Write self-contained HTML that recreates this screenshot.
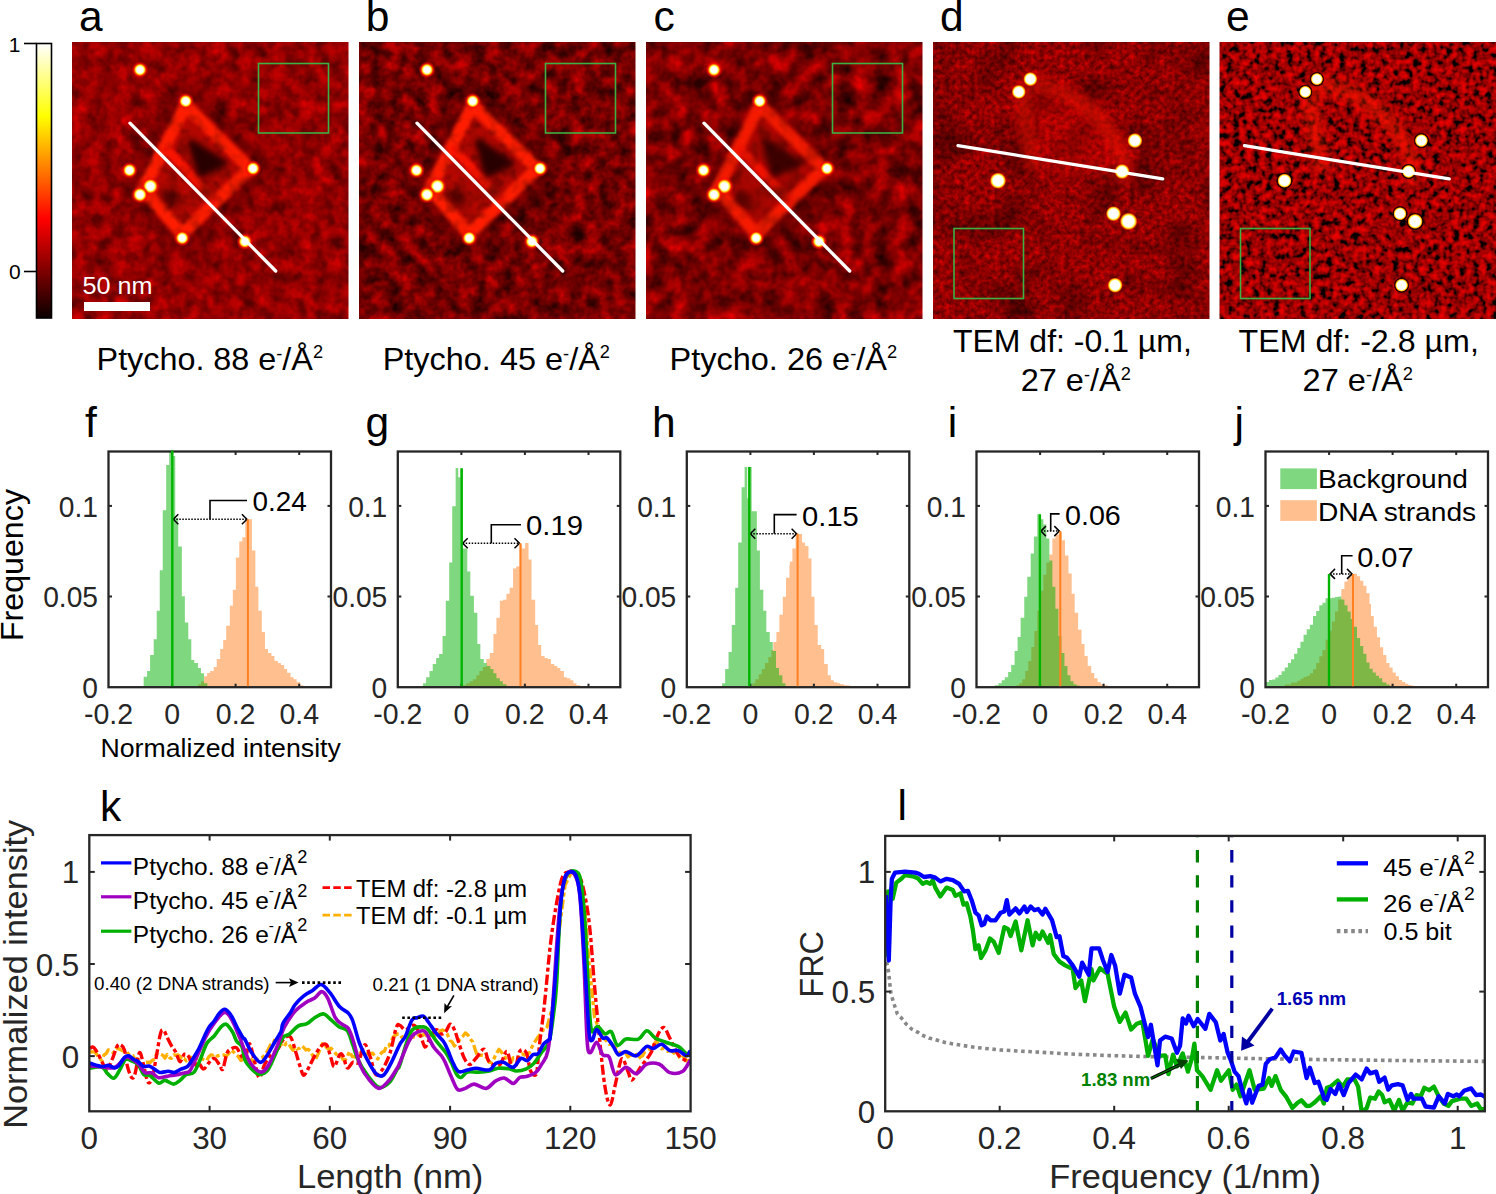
<!DOCTYPE html>
<html><head><meta charset="utf-8"><title>Figure</title>
<style>html,body{margin:0;padding:0;background:#fff;overflow:hidden}svg{display:block}</style></head>
<body><svg width="1496" height="1194" viewBox="0 0 1496 1194" font-family='"Liberation Sans", sans-serif'>
<defs>
<linearGradient id="hot" x1="0" y1="0" x2="0" y2="1">
 <stop offset="0" stop-color="#ffffff"/>
 <stop offset="0.265" stop-color="#ffff00"/>
 <stop offset="0.64" stop-color="#ff0000"/>
 <stop offset="1" stop-color="#0a0000"/>
</linearGradient>
<radialGradient id="spot">
 <stop offset="0" stop-color="#ffffff"/>
 <stop offset="0.36" stop-color="#ffffff"/>
 <stop offset="0.5" stop-color="#ffff50"/>
 <stop offset="0.6" stop-color="#ff9800"/>
 <stop offset="0.72" stop-color="#ff1800" stop-opacity="0.85"/>
 <stop offset="1" stop-color="#e00000" stop-opacity="0"/>
</radialGradient>
<radialGradient id="spotD">
 <stop offset="0" stop-color="#ffffff"/>
 <stop offset="0.6" stop-color="#ffffff"/>
 <stop offset="0.72" stop-color="#ffff50"/>
 <stop offset="0.84" stop-color="#ff9000"/>
 <stop offset="1" stop-color="#ff2000" stop-opacity="0"/>
</radialGradient>
<radialGradient id="spotE">
 <stop offset="0" stop-color="#ffffa0"/>
 <stop offset="0.15" stop-color="#ffffff"/>
 <stop offset="0.55" stop-color="#ffffff"/>
 <stop offset="0.66" stop-color="#ffff40"/>
 <stop offset="0.74" stop-color="#ff8000"/>
 <stop offset="0.82" stop-color="#200000"/>
 <stop offset="0.92" stop-color="#100000" stop-opacity="0.7"/>
 <stop offset="1" stop-color="#100000" stop-opacity="0"/>
</radialGradient>
<filter id="blur2" x="-60%" y="-60%" width="220%" height="220%"><feGaussianBlur stdDeviation="2"/></filter>
<filter id="blur4" x="-60%" y="-60%" width="220%" height="220%"><feGaussianBlur stdDeviation="4"/></filter>
<filter id="blur3" x="-60%" y="-60%" width="220%" height="220%"><feGaussianBlur stdDeviation="3"/></filter>
<filter id="blur5" x="-60%" y="-60%" width="220%" height="220%"><feGaussianBlur stdDeviation="5"/></filter>
<filter id="blur8" x="-60%" y="-60%" width="220%" height="220%"><feGaussianBlur stdDeviation="8"/></filter>
<filter id="lowd" filterUnits="userSpaceOnUse" x="933" y="42" width="276.5" height="277" color-interpolation-filters="sRGB"><feTurbulence type="fractalNoise" baseFrequency="0.025" numOctaves="2" seed="21"/><feColorMatrix type="matrix" values="1.1 0 0 0 0.38  1.1 0 0 0 0.38  1.1 0 0 0 0.38  0 0 0 0 1"/></filter><filter id="nz0" filterUnits="userSpaceOnUse" x="72" y="42" width="276.5" height="277" color-interpolation-filters="sRGB"><feTurbulence type="fractalNoise" baseFrequency="0.07" numOctaves="3" seed="3" result="t"/><feColorMatrix in="t" type="matrix" values="0.62 0 0 0 0.31  0 0 0 0 0  0 0 0 0 0  0 0 0 0 1" result="c"/></filter><filter id="ov0" filterUnits="userSpaceOnUse" x="72" y="42" width="276.5" height="277" color-interpolation-filters="sRGB"><feTurbulence type="fractalNoise" baseFrequency="0.084" numOctaves="2" seed="53"/><feColorMatrix type="matrix" values="0.9 0 0 0 0.5  0.9 0 0 0 0.5  0.9 0 0 0 0.5  0 0 0 0 1"/></filter><clipPath id="clip0"><rect x="72" y="42" width="276.5" height="277"/></clipPath><filter id="nz1" filterUnits="userSpaceOnUse" x="359" y="42" width="276.5" height="277" color-interpolation-filters="sRGB"><feTurbulence type="fractalNoise" baseFrequency="0.07" numOctaves="3" seed="5" result="t"/><feColorMatrix in="t" type="matrix" values="0.95 0 0 0 0.02  0 0 0 0 0  0 0 0 0 0  0 0 0 0 1" result="c"/></filter><filter id="ov1" filterUnits="userSpaceOnUse" x="359" y="42" width="276.5" height="277" color-interpolation-filters="sRGB"><feTurbulence type="fractalNoise" baseFrequency="0.084" numOctaves="2" seed="55"/><feColorMatrix type="matrix" values="0.9 0 0 0 0.5  0.9 0 0 0 0.5  0.9 0 0 0 0.5  0 0 0 0 1"/></filter><clipPath id="clip1"><rect x="359" y="42" width="276.5" height="277"/></clipPath><filter id="nz2" filterUnits="userSpaceOnUse" x="646" y="42" width="276.5" height="277" color-interpolation-filters="sRGB"><feTurbulence type="fractalNoise" baseFrequency="0.055" numOctaves="3" seed="8" result="t"/><feColorMatrix in="t" type="matrix" values="1.0 0 0 0 0.03  0 0 0 0 0  0 0 0 0 0  0 0 0 0 1" result="c"/></filter><filter id="ov2" filterUnits="userSpaceOnUse" x="646" y="42" width="276.5" height="277" color-interpolation-filters="sRGB"><feTurbulence type="fractalNoise" baseFrequency="0.066" numOctaves="2" seed="58"/><feColorMatrix type="matrix" values="0.9 0 0 0 0.5  0.9 0 0 0 0.5  0.9 0 0 0 0.5  0 0 0 0 1"/></filter><clipPath id="clip2"><rect x="646" y="42" width="276.5" height="277"/></clipPath><filter id="nz3" filterUnits="userSpaceOnUse" x="933" y="42" width="276.5" height="277" color-interpolation-filters="sRGB"><feTurbulence type="fractalNoise" baseFrequency="0.2" numOctaves="2" seed="11" result="t"/><feColorMatrix in="t" type="matrix" values="0.75 0 0 0 0.2  0 0 0 0 0  0 0 0 0 0  0 0 0 0 1" result="c"/></filter><filter id="ov3" filterUnits="userSpaceOnUse" x="933" y="42" width="276.5" height="277" color-interpolation-filters="sRGB"><feTurbulence type="fractalNoise" baseFrequency="0.24" numOctaves="2" seed="61"/><feColorMatrix type="matrix" values="0.9 0 0 0 0.5  0.9 0 0 0 0.5  0.9 0 0 0 0.5  0 0 0 0 1"/></filter><clipPath id="clip3"><rect x="933" y="42" width="276.5" height="277"/></clipPath><filter id="nz4" filterUnits="userSpaceOnUse" x="1219.5" y="42" width="276.5" height="277" color-interpolation-filters="sRGB"><feTurbulence type="fractalNoise" baseFrequency="0.15" numOctaves="2" seed="13" result="t"/><feColorMatrix in="t" type="matrix" values="1 0 0 0 0  0 0 0 0 0  0 0 0 0 0  0 0 0 0 1" result="c0"/><feComponentTransfer in="c0" result="c"><feFuncR type="table" tableValues="0 0 0 0 0 0 0.1 0.28 0.42 0.52 0.6 0.67 0.73 0.78 0.83 0.87 0.9 0.92 0.94 0.95 0.96"/></feComponentTransfer></filter><filter id="ov4" filterUnits="userSpaceOnUse" x="1219.5" y="42" width="276.5" height="277" color-interpolation-filters="sRGB"><feTurbulence type="fractalNoise" baseFrequency="0.18" numOctaves="2" seed="63"/><feColorMatrix type="matrix" values="0.9 0 0 0 0.5  0.9 0 0 0 0.5  0.9 0 0 0 0.5  0 0 0 0 1"/></filter><clipPath id="clip4"><rect x="1219.5" y="42" width="276.5" height="277"/></clipPath></defs>
<rect width="1496" height="1194" fill="#fff"/>
<rect x="36.5" y="43.5" width="15" height="274.5" fill="url(#hot)" stroke="#000" stroke-width="1.6"/>
<line x1="24" y1="43.5" x2="36.5" y2="43.5" stroke="#000" stroke-width="1.6"/>
<line x1="24" y1="271.5" x2="36.5" y2="271.5" stroke="#000" stroke-width="1.6"/>
<g clip-path="url(#clip0)">
<rect x="72" y="42" width="276.5" height="277" filter="url(#nz0)"/>
<g filter="url(#blur8)" opacity="0.45">
<polygon points="185.7,105.0 250.0,168.5 182.2,234.0 143.0,189.0" fill="#300000" stroke="#300000" stroke-width="36" stroke-linejoin="round"/>
</g>
<g filter="url(#blur5)" opacity="0.35">
<polygon points="185.7,105.0 250.0,168.5 182.2,234.0 143.0,189.0" fill="#b00000" stroke="#b00000" stroke-width="14" stroke-linejoin="round"/>
</g>
<g filter="url(#blur2)" opacity="0.60">
<polygon points="185.7,105.0 250.0,168.5 182.2,234.0 143.0,189.0" fill="#d00800"/>
</g>
<g filter="url(#blur2)" opacity="1.00">
<polygon points="185.7,105.0 250.0,168.5 182.2,234.0 143.0,189.0" fill="none" stroke="#ff2000" stroke-width="12" stroke-linejoin="round"/>
<line x1="164.3" y1="147.0" x2="216.1" y2="201.2" stroke="#f81800" stroke-width="9"/>
</g>

<rect x="72" y="42" width="276.5" height="277" filter="url(#ov0)" style="mix-blend-mode:multiply"/>

<g filter="url(#blur2)" opacity="0.42">
<polygon points="185.7,105.0 250.0,168.5 182.2,234.0 143.0,189.0" fill="none" stroke="#ff1400" stroke-width="9" stroke-linejoin="round"/>
<line x1="164.3" y1="147.0" x2="216.1" y2="201.2" stroke="#ff1000" stroke-width="6"/>
</g>
<g filter="url(#blur3)" opacity="0.95">
<polygon points="191.0,142.0 225.0,163.0 200.0,175.0" fill="#200000" stroke="#200000" stroke-width="6" stroke-linejoin="round"/>
</g>
<g filter="url(#blur4)" opacity="0.80">
<ellipse cx="170" cy="198" rx="10" ry="6.5" fill="#280000" transform="rotate(40 170 198)"/>
<ellipse cx="207" cy="192" rx="8" ry="5" fill="#280000" transform="rotate(40 207 192)"/>
</g>
<circle cx="140" cy="69.8" r="8.5" fill="url(#spot)"/>
<circle cx="185.7" cy="101.2" r="8.5" fill="url(#spot)"/>
<circle cx="129.5" cy="170.3" r="8.5" fill="url(#spot)"/>
<circle cx="253" cy="168.5" r="8.5" fill="url(#spot)"/>
<circle cx="150.4" cy="186.3" r="9.8" fill="url(#spot)"/>
<circle cx="140" cy="194.7" r="9.1" fill="url(#spot)"/>
<circle cx="182.2" cy="238" r="8.5" fill="url(#spot)"/>
<circle cx="244.9" cy="241.5" r="8.5" fill="url(#spot)"/>
<line x1="130" y1="123.2" x2="275.7" y2="271" stroke="#fff" stroke-width="3.3" stroke-linecap="round"/>
<rect x="258.5" y="63.5" width="70" height="69.5" fill="none" stroke="#3cb043" stroke-width="1.6"/>
</g>
<g clip-path="url(#clip1)">
<rect x="359" y="42" width="276.5" height="277" filter="url(#nz1)"/>
<g filter="url(#blur8)" opacity="0.45">
<polygon points="472.7,105.0 537.0,168.5 469.2,234.0 430.0,189.0" fill="#300000" stroke="#300000" stroke-width="36" stroke-linejoin="round"/>
</g>
<g filter="url(#blur5)" opacity="0.35">
<polygon points="472.7,105.0 537.0,168.5 469.2,234.0 430.0,189.0" fill="#b00000" stroke="#b00000" stroke-width="14" stroke-linejoin="round"/>
</g>
<g filter="url(#blur2)" opacity="0.60">
<polygon points="472.7,105.0 537.0,168.5 469.2,234.0 430.0,189.0" fill="#d00800"/>
</g>
<g filter="url(#blur2)" opacity="1.00">
<polygon points="472.7,105.0 537.0,168.5 469.2,234.0 430.0,189.0" fill="none" stroke="#ff2000" stroke-width="12" stroke-linejoin="round"/>
<line x1="451.4" y1="147.0" x2="503.1" y2="201.2" stroke="#f81800" stroke-width="9"/>
</g>

<rect x="359" y="42" width="276.5" height="277" filter="url(#ov1)" style="mix-blend-mode:multiply"/>

<g filter="url(#blur2)" opacity="0.42">
<polygon points="472.7,105.0 537.0,168.5 469.2,234.0 430.0,189.0" fill="none" stroke="#ff1400" stroke-width="9" stroke-linejoin="round"/>
<line x1="451.4" y1="147.0" x2="503.1" y2="201.2" stroke="#ff1000" stroke-width="6"/>
</g>
<g filter="url(#blur3)" opacity="0.95">
<polygon points="478.0,142.0 512.0,163.0 487.0,175.0" fill="#200000" stroke="#200000" stroke-width="6" stroke-linejoin="round"/>
</g>
<g filter="url(#blur4)" opacity="0.80">
<ellipse cx="457" cy="198" rx="10" ry="6.5" fill="#280000" transform="rotate(40 457 198)"/>
<ellipse cx="494" cy="192" rx="8" ry="5" fill="#280000" transform="rotate(40 494 192)"/>
</g>
<circle cx="427" cy="69.8" r="8.5" fill="url(#spot)"/>
<circle cx="472.7" cy="101.2" r="8.5" fill="url(#spot)"/>
<circle cx="416.5" cy="170.3" r="8.5" fill="url(#spot)"/>
<circle cx="540" cy="168.5" r="8.5" fill="url(#spot)"/>
<circle cx="437.4" cy="186.3" r="9.8" fill="url(#spot)"/>
<circle cx="427" cy="194.7" r="9.1" fill="url(#spot)"/>
<circle cx="469.2" cy="238" r="8.5" fill="url(#spot)"/>
<circle cx="531.9" cy="241.5" r="8.5" fill="url(#spot)"/>
<line x1="417" y1="123.2" x2="562.7" y2="271" stroke="#fff" stroke-width="3.3" stroke-linecap="round"/>
<rect x="545.5" y="63.5" width="70" height="69.5" fill="none" stroke="#3cb043" stroke-width="1.6"/>
</g>
<g clip-path="url(#clip2)">
<rect x="646" y="42" width="276.5" height="277" filter="url(#nz2)"/>
<g filter="url(#blur8)" opacity="0.38">
<polygon points="759.7,105.0 824.0,168.5 756.2,234.0 717.0,189.0" fill="#300000" stroke="#300000" stroke-width="36" stroke-linejoin="round"/>
</g>
<g filter="url(#blur5)" opacity="0.30">
<polygon points="759.7,105.0 824.0,168.5 756.2,234.0 717.0,189.0" fill="#b00000" stroke="#b00000" stroke-width="14" stroke-linejoin="round"/>
</g>
<g filter="url(#blur2)" opacity="0.51">
<polygon points="759.7,105.0 824.0,168.5 756.2,234.0 717.0,189.0" fill="#d00800"/>
</g>
<g filter="url(#blur2)" opacity="0.85">
<polygon points="759.7,105.0 824.0,168.5 756.2,234.0 717.0,189.0" fill="none" stroke="#ff2000" stroke-width="12" stroke-linejoin="round"/>
<line x1="738.4" y1="147.0" x2="790.1" y2="201.2" stroke="#f81800" stroke-width="9"/>
</g>

<rect x="646" y="42" width="276.5" height="277" filter="url(#ov2)" style="mix-blend-mode:multiply"/>

<g filter="url(#blur2)" opacity="0.36">
<polygon points="759.7,105.0 824.0,168.5 756.2,234.0 717.0,189.0" fill="none" stroke="#ff1400" stroke-width="9" stroke-linejoin="round"/>
<line x1="738.4" y1="147.0" x2="790.1" y2="201.2" stroke="#ff1000" stroke-width="6"/>
</g>
<g filter="url(#blur3)" opacity="0.81">
<polygon points="765.0,142.0 799.0,163.0 774.0,175.0" fill="#200000" stroke="#200000" stroke-width="6" stroke-linejoin="round"/>
</g>
<g filter="url(#blur4)" opacity="0.68">
<ellipse cx="744" cy="198" rx="10" ry="6.5" fill="#280000" transform="rotate(40 744 198)"/>
<ellipse cx="781" cy="192" rx="8" ry="5" fill="#280000" transform="rotate(40 781 192)"/>
</g>
<circle cx="714" cy="69.8" r="8.5" fill="url(#spot)"/>
<circle cx="759.7" cy="101.2" r="8.5" fill="url(#spot)"/>
<circle cx="703.5" cy="170.3" r="8.5" fill="url(#spot)"/>
<circle cx="827" cy="168.5" r="8.5" fill="url(#spot)"/>
<circle cx="724.4" cy="186.3" r="9.8" fill="url(#spot)"/>
<circle cx="714" cy="194.7" r="9.1" fill="url(#spot)"/>
<circle cx="756.2" cy="238" r="8.5" fill="url(#spot)"/>
<circle cx="818.9" cy="241.5" r="8.5" fill="url(#spot)"/>
<line x1="704" y1="123.2" x2="849.7" y2="271" stroke="#fff" stroke-width="3.3" stroke-linecap="round"/>
<rect x="832.5" y="63.5" width="70" height="69.5" fill="none" stroke="#3cb043" stroke-width="1.6"/>
</g>
<g clip-path="url(#clip3)">
<rect x="933" y="42" width="276.5" height="277" filter="url(#nz3)"/>
<rect x="933" y="42" width="276.5" height="277" filter="url(#lowd)" style="mix-blend-mode:multiply"/>
<g filter="url(#blur8)" opacity="0.22">
<polygon points="1028,84 1103,102 1133,152 1128,182 1043,170 1023,102" fill="#ff1000"/>
</g>
<g filter="url(#blur4)" opacity="0.38">
<path d="M1030,82 Q1093,92 1123,157 L1125,177 M1021,94 Q1025,132 1033,164" fill="none" stroke="#ff1800" stroke-width="16" stroke-linecap="round"/>
</g>
<circle cx="1030.4" cy="79.1" r="7.3" fill="url(#spotD)"/>
<circle cx="1018.8" cy="91.9" r="7.3" fill="url(#spotD)"/>
<circle cx="1134.9" cy="140.6" r="7.8" fill="url(#spotD)"/>
<circle cx="1122.1" cy="171.5" r="7.8" fill="url(#spotD)"/>
<circle cx="998" cy="180.7" r="8.4" fill="url(#spotD)"/>
<circle cx="1113.5" cy="213.7" r="7.8" fill="url(#spotD)"/>
<circle cx="1128.6" cy="221.4" r="9.0" fill="url(#spotD)"/>
<circle cx="1115.1" cy="285.2" r="7.8" fill="url(#spotD)"/>
<line x1="958" y1="145.7" x2="1162.7" y2="178.9" stroke="#fff" stroke-width="3.3" stroke-linecap="round"/>
<rect x="954" y="228.5" width="69.5" height="70" fill="none" stroke="#3cb043" stroke-width="1.6"/>
</g>
<g clip-path="url(#clip4)">
<rect x="1219.5" y="42" width="276.5" height="277" filter="url(#nz4)"/>
<g filter="url(#blur5)" opacity="0.4">
<path d="M1318.5,84 Q1379.5,92 1411.5,157 L1411.5,177 M1309.5,96 Q1313.5,132 1321.5,164" fill="none" stroke="#ff2000" stroke-width="18" stroke-linecap="round"/>
</g>
<circle cx="1316.9" cy="79.1" r="7.5" fill="url(#spotE)"/>
<circle cx="1305.3" cy="91.9" r="7.5" fill="url(#spotE)"/>
<circle cx="1421.4" cy="140.6" r="8.0" fill="url(#spotE)"/>
<circle cx="1408.6" cy="171.5" r="8.0" fill="url(#spotE)"/>
<circle cx="1284.5" cy="180.7" r="8.6" fill="url(#spotE)"/>
<circle cx="1400.0" cy="213.7" r="8.0" fill="url(#spotE)"/>
<circle cx="1415.1" cy="221.4" r="9.2" fill="url(#spotE)"/>
<circle cx="1401.6" cy="285.2" r="8.0" fill="url(#spotE)"/>
<line x1="1244.5" y1="145.7" x2="1449.2" y2="178.9" stroke="#fff" stroke-width="3.3" stroke-linecap="round"/>
<rect x="1240.5" y="228.5" width="69.5" height="70" fill="none" stroke="#3cb043" stroke-width="1.6"/>
</g>
<rect x="84" y="302" width="66" height="9" fill="#fff"/>
<clipPath id="hc0"><rect x="108.5" y="451.5" width="222.5" height="235.70000000000005"/></clipPath>
<g clip-path="url(#hc0)">
<path d="M198.05,687.2L198.05,684.18L201.06,684.18L201.06,681.17L204.08,681.17L204.08,676.14L207.10,676.14L207.10,673.12L210.11,673.12L210.11,671.11L213.73,671.11L213.73,667.09L216.75,667.09L216.75,659.04L220.17,659.04L220.17,648.99L223.19,648.99L223.19,639.94L226.20,639.94L226.20,625.86L229.82,625.86L229.82,605.74L232.84,605.74L232.84,589.65L235.86,589.65L235.86,557.47L239.28,557.47L239.28,541.38L242.29,541.38L242.29,537.36L245.31,537.36L245.31,519.26L248.33,519.26L248.33,519.26L251.95,519.26L251.95,550.43L255.37,550.43L255.37,586.64L258.38,586.64L258.38,610.77L261.80,610.77L261.80,631.89L265.02,631.89L265.02,648.99L268.04,648.99L268.04,653.01L271.46,653.01L271.46,656.03L274.47,656.03L274.47,661.05L277.89,661.05L277.89,663.06L280.91,663.06L280.91,665.08L284.13,665.08L284.13,669.10L287.14,669.10L287.14,672.72L290.56,672.72L290.56,677.14L293.58,677.14L293.58,679.15L296.60,679.15L296.60,682.17L300.22,682.17L300.22,685.19L303.23,685.19L303.23,686.19L330.79,686.19L330.79,687.20L331.00,687.20L331.00,687.2Z" fill="#ff8020" fill-opacity="0.5"/>
<path d="M141.06,687.2L141.06,687.20L143.67,687.20L143.67,676.75L147.09,676.75L147.09,671.12L150.10,671.12L150.10,655.04L153.72,655.04L153.72,639.36L156.73,639.36L156.73,610.82L159.75,610.82L159.75,570.22L162.76,570.22L162.76,510.32L166.18,510.32L166.18,465.09L169.20,465.09L169.20,452.02L172.21,452.02L172.21,456.04L175.23,456.04L175.23,518.36L178.24,518.36L178.24,546.50L181.86,546.50L181.86,596.35L184.87,596.35L184.87,622.48L188.29,622.48L188.29,639.36L191.31,639.36L191.31,660.06L194.32,660.06L194.32,663.08L197.94,663.08L197.94,668.10L200.95,668.10L200.95,673.13L203.97,673.13L203.97,683.18L207.39,683.18L207.39,687.20L210.49,687.20L210.49,687.2Z" fill="#00b000" fill-opacity="0.5"/>
</g>
<line x1="173.3" y1="519.3" x2="246.9" y2="519.3" stroke="#000" stroke-width="1.5" stroke-dasharray="1.5,1.5"/>
<polyline points="178.3,514.3 173.3,519.3 178.3,524.3" fill="none" stroke="#000" stroke-width="1.5"/>
<polyline points="241.9,514.3 246.9,519.3 241.9,524.3" fill="none" stroke="#000" stroke-width="1.5"/>
<polyline points="210,519.3 210,500.5 247,500.5" fill="none" stroke="#000" stroke-width="1.6"/>
<rect x="108.5" y="451.5" width="222.5" height="235.70000000000005" fill="none" stroke="#262626" stroke-width="2.3"/>
<line x1="172.1" y1="687.2" x2="172.1" y2="683.7" stroke="#262626" stroke-width="2"/>
<line x1="172.1" y1="451.5" x2="172.1" y2="455.0" stroke="#262626" stroke-width="2"/>
<line x1="235.6" y1="687.2" x2="235.6" y2="683.7" stroke="#262626" stroke-width="2"/>
<line x1="235.6" y1="451.5" x2="235.6" y2="455.0" stroke="#262626" stroke-width="2"/>
<line x1="299.2" y1="687.2" x2="299.2" y2="683.7" stroke="#262626" stroke-width="2"/>
<line x1="299.2" y1="451.5" x2="299.2" y2="455.0" stroke="#262626" stroke-width="2"/>
<line x1="108.5" y1="596.5" x2="112.0" y2="596.5" stroke="#262626" stroke-width="2"/>
<line x1="331.0" y1="596.5" x2="327.5" y2="596.5" stroke="#262626" stroke-width="2"/>
<line x1="108.5" y1="505.9" x2="112.0" y2="505.9" stroke="#262626" stroke-width="2"/>
<line x1="331.0" y1="505.9" x2="327.5" y2="505.9" stroke="#262626" stroke-width="2"/>
<line x1="172.3" y1="686.2" x2="172.3" y2="450.4" stroke="#00b400" stroke-width="2.4"/>
<line x1="247.9" y1="686.2" x2="247.9" y2="519.3" stroke="#ff8020" stroke-width="2"/>
<text x="0" y="0" transform="translate(108.5,723.9) scale(0.965,1)" font-size="29.5" fill="#262626" text-anchor="middle">-0.2</text>
<text x="0" y="0" transform="translate(172.1,723.9) scale(0.965,1)" font-size="29.5" fill="#262626" text-anchor="middle">0</text>
<text x="0" y="0" transform="translate(235.6,723.9) scale(0.965,1)" font-size="29.5" fill="#262626" text-anchor="middle">0.2</text>
<text x="0" y="0" transform="translate(299.2,723.9) scale(0.965,1)" font-size="29.5" fill="#262626" text-anchor="middle">0.4</text>
<text x="0" y="0" transform="translate(98.0,698.1) scale(0.965,1)" font-size="29.2" fill="#262626" text-anchor="end">0</text>
<text x="0" y="0" transform="translate(98.0,607.4) scale(0.965,1)" font-size="29.2" fill="#262626" text-anchor="end">0.05</text>
<text x="0" y="0" transform="translate(98.0,516.8) scale(0.965,1)" font-size="29.2" fill="#262626" text-anchor="end">0.1</text>
<clipPath id="hc1"><rect x="397.8" y="451.5" width="222.5" height="235.70000000000005"/></clipPath>
<g clip-path="url(#hc1)">
<path d="M462.66,687.2L462.66,685.19L466.28,685.19L466.28,683.18L469.70,683.18L469.70,681.17L472.91,681.17L472.91,679.16L476.33,679.16L476.33,675.14L479.35,675.14L479.35,671.12L482.76,671.12L482.76,667.10L486.38,667.10L486.38,659.06L489.80,659.06L489.80,653.03L493.42,653.03L493.42,633.93L496.43,633.93L496.43,617.85L499.85,617.85L499.85,600.77L503.02,600.77L503.02,599.76L506.43,599.76L506.43,593.73L509.65,593.73L509.65,587.70L513.07,587.70L513.07,568.61L516.08,568.61L516.08,566.60L519.50,566.60L519.50,544.49L522.11,544.49L522.11,548.51L525.13,548.51L525.13,542.88L528.54,542.88L528.54,559.56L531.56,559.56L531.56,599.76L535.18,599.76L535.18,624.89L538.19,624.89L538.19,644.99L541.21,644.99L541.21,656.04L544.62,656.04L544.62,658.05L547.64,658.05L547.64,659.06L550.85,659.06L550.85,664.08L554.27,664.08L554.27,666.09L557.29,666.09L557.29,668.10L560.30,668.10L560.30,671.12L563.92,671.12L563.92,677.15L566.93,677.15L566.93,678.15L570.35,678.15L570.35,680.16L573.37,680.16L573.37,683.18L576.38,683.18L576.38,685.19L580.00,685.19L580.00,686.19L620.30,686.19L620.30,687.2Z" fill="#ff8020" fill-opacity="0.5"/>
<path d="M420.05,687.2L420.05,686.80L423.07,686.80L423.07,683.18L426.08,683.18L426.08,677.15L429.50,677.15L429.50,671.12L432.71,671.12L432.71,664.08L436.13,664.08L436.13,658.05L439.15,658.05L439.15,654.03L442.56,654.03L442.56,635.94L445.78,635.94L445.78,600.77L449.20,600.77L449.20,562.58L452.21,562.58L452.21,506.30L455.63,506.30L455.63,468.10L458.24,468.10L458.24,477.15L460.25,477.15L460.25,468.10L462.66,468.10L462.66,548.51L467.29,548.51L467.29,571.62L470.30,571.62L470.30,595.74L473.92,595.74L473.92,612.83L477.34,612.83L477.34,643.98L480.35,643.98L480.35,659.06L483.77,659.06L483.77,663.08L486.78,663.08L486.78,666.09L490.40,666.09L490.40,669.11L493.42,669.11L493.42,673.13L496.43,673.13L496.43,678.15L499.85,678.15L499.85,681.17L502.86,681.17L502.86,684.18L506.48,684.18L506.48,686.19L509.50,686.19L509.50,687.20L512.60,687.20L512.60,687.2Z" fill="#00b000" fill-opacity="0.5"/>
</g>
<line x1="462.7" y1="543.2" x2="519.5" y2="543.2" stroke="#000" stroke-width="1.5" stroke-dasharray="1.5,1.5"/>
<polyline points="467.7,538.2 462.7,543.2 467.7,548.2" fill="none" stroke="#000" stroke-width="1.5"/>
<polyline points="514.5,538.2 519.5,543.2 514.5,548.2" fill="none" stroke="#000" stroke-width="1.5"/>
<polyline points="491.3,543.2 491.3,524.7 521,524.7" fill="none" stroke="#000" stroke-width="1.6"/>
<rect x="397.8" y="451.5" width="222.5" height="235.70000000000005" fill="none" stroke="#262626" stroke-width="2.3"/>
<line x1="461.4" y1="687.2" x2="461.4" y2="683.7" stroke="#262626" stroke-width="2"/>
<line x1="461.4" y1="451.5" x2="461.4" y2="455.0" stroke="#262626" stroke-width="2"/>
<line x1="524.9" y1="687.2" x2="524.9" y2="683.7" stroke="#262626" stroke-width="2"/>
<line x1="524.9" y1="451.5" x2="524.9" y2="455.0" stroke="#262626" stroke-width="2"/>
<line x1="588.5" y1="687.2" x2="588.5" y2="683.7" stroke="#262626" stroke-width="2"/>
<line x1="588.5" y1="451.5" x2="588.5" y2="455.0" stroke="#262626" stroke-width="2"/>
<line x1="397.8" y1="596.5" x2="401.3" y2="596.5" stroke="#262626" stroke-width="2"/>
<line x1="620.3" y1="596.5" x2="616.8" y2="596.5" stroke="#262626" stroke-width="2"/>
<line x1="397.8" y1="505.9" x2="401.3" y2="505.9" stroke="#262626" stroke-width="2"/>
<line x1="620.3" y1="505.9" x2="616.8" y2="505.9" stroke="#262626" stroke-width="2"/>
<line x1="461.7" y1="686.2" x2="461.7" y2="468.5" stroke="#00b400" stroke-width="2.4"/>
<line x1="520.5" y1="686.2" x2="520.5" y2="543.2" stroke="#ff8020" stroke-width="2"/>
<text x="0" y="0" transform="translate(397.8,723.9) scale(0.965,1)" font-size="29.5" fill="#262626" text-anchor="middle">-0.2</text>
<text x="0" y="0" transform="translate(461.4,723.9) scale(0.965,1)" font-size="29.5" fill="#262626" text-anchor="middle">0</text>
<text x="0" y="0" transform="translate(524.9,723.9) scale(0.965,1)" font-size="29.5" fill="#262626" text-anchor="middle">0.2</text>
<text x="0" y="0" transform="translate(588.5,723.9) scale(0.965,1)" font-size="29.5" fill="#262626" text-anchor="middle">0.4</text>
<text x="0" y="0" transform="translate(387.3,698.1) scale(0.965,1)" font-size="29.2" fill="#262626" text-anchor="end">0</text>
<text x="0" y="0" transform="translate(387.3,607.4) scale(0.965,1)" font-size="29.2" fill="#262626" text-anchor="end">0.05</text>
<text x="0" y="0" transform="translate(387.3,516.8) scale(0.965,1)" font-size="29.2" fill="#262626" text-anchor="end">0.1</text>
<clipPath id="hc2"><rect x="686.8" y="451.5" width="222.5" height="235.70000000000005"/></clipPath>
<g clip-path="url(#hc2)">
<path d="M749.25,687.2L749.25,686.19L752.26,686.19L752.26,683.18L755.28,683.18L755.28,679.16L758.69,679.16L758.69,674.13L761.71,674.13L761.71,669.11L764.92,669.11L764.92,663.08L768.34,663.08L768.34,657.05L771.36,657.05L771.36,650.01L773.37,650.01L773.37,641.97L776.38,641.97L776.38,631.92L779.40,631.92L779.40,614.84L782.81,614.84L782.81,596.75L786.03,596.75L786.03,577.65L789.45,577.65L789.45,564.59L790.00,564.59L790.00,561.57L792.41,561.57L792.41,548.51L795.63,548.51L795.63,534.03L799.05,534.03L799.05,534.03L802.06,534.03L802.06,542.48L805.08,542.48L805.08,546.09L808.49,546.09L808.49,558.56L811.51,558.56L811.51,596.75L814.52,596.75L814.52,624.89L817.74,624.89L817.74,644.99L821.16,644.99L821.16,649.01L824.17,649.01L824.17,664.08L827.79,664.08L827.79,675.14L830.80,675.14L830.80,680.16L833.82,680.16L833.82,682.17L837.24,682.17L837.24,683.18L840.25,683.18L840.25,684.18L843.87,684.18L843.87,685.19L846.88,685.19L846.88,685.59L850.30,685.59L850.30,686.19L870.40,686.19L870.40,687.20L873.50,687.20L873.50,687.2Z" fill="#ff8020" fill-opacity="0.5"/>
<path d="M719.10,687.2L719.10,686.19L722.11,686.19L722.11,683.18L725.13,683.18L725.13,669.11L728.54,669.11L728.54,652.02L731.76,652.02L731.76,624.89L735.18,624.89L735.18,587.70L738.19,587.70L738.19,542.48L741.61,542.48L741.61,487.20L744.62,487.20L744.62,467.10L747.24,467.10L747.24,498.26L748.64,498.26L748.64,467.10L751.66,467.10L751.66,511.32L756.88,511.32L756.88,550.52L759.90,550.52L759.90,589.71L763.32,589.71L763.32,610.82L766.33,610.82L766.33,631.92L769.75,631.92L769.75,641.97L772.76,641.97L772.76,651.02L775.98,651.02L775.98,668.10L778.99,668.10L778.99,675.14L782.41,675.14L782.41,683.18L785.43,683.18L785.43,686.19L788.44,686.19L788.44,687.20L791.54,687.20L791.54,687.2Z" fill="#00b000" fill-opacity="0.5"/>
</g>
<line x1="750.3" y1="533.7" x2="796.6" y2="533.7" stroke="#000" stroke-width="1.5" stroke-dasharray="1.5,1.5"/>
<polyline points="755.3,528.7 750.3,533.7 755.3,538.7" fill="none" stroke="#000" stroke-width="1.5"/>
<polyline points="791.6,528.7 796.6,533.7 791.6,538.7" fill="none" stroke="#000" stroke-width="1.5"/>
<polyline points="774.3,533.7 774.3,514.6 796.6,514.6" fill="none" stroke="#000" stroke-width="1.6"/>
<rect x="686.8" y="451.5" width="222.5" height="235.70000000000005" fill="none" stroke="#262626" stroke-width="2.3"/>
<line x1="750.4" y1="687.2" x2="750.4" y2="683.7" stroke="#262626" stroke-width="2"/>
<line x1="750.4" y1="451.5" x2="750.4" y2="455.0" stroke="#262626" stroke-width="2"/>
<line x1="813.9" y1="687.2" x2="813.9" y2="683.7" stroke="#262626" stroke-width="2"/>
<line x1="813.9" y1="451.5" x2="813.9" y2="455.0" stroke="#262626" stroke-width="2"/>
<line x1="877.5" y1="687.2" x2="877.5" y2="683.7" stroke="#262626" stroke-width="2"/>
<line x1="877.5" y1="451.5" x2="877.5" y2="455.0" stroke="#262626" stroke-width="2"/>
<line x1="686.8" y1="596.5" x2="690.3" y2="596.5" stroke="#262626" stroke-width="2"/>
<line x1="909.3" y1="596.5" x2="905.8" y2="596.5" stroke="#262626" stroke-width="2"/>
<line x1="686.8" y1="505.9" x2="690.3" y2="505.9" stroke="#262626" stroke-width="2"/>
<line x1="909.3" y1="505.9" x2="905.8" y2="505.9" stroke="#262626" stroke-width="2"/>
<line x1="749.3" y1="686.2" x2="749.3" y2="467" stroke="#00b400" stroke-width="2.4"/>
<line x1="797.6" y1="686.2" x2="797.6" y2="533.7" stroke="#ff8020" stroke-width="2"/>
<text x="0" y="0" transform="translate(686.8,723.9) scale(0.965,1)" font-size="29.5" fill="#262626" text-anchor="middle">-0.2</text>
<text x="0" y="0" transform="translate(750.4,723.9) scale(0.965,1)" font-size="29.5" fill="#262626" text-anchor="middle">0</text>
<text x="0" y="0" transform="translate(813.9,723.9) scale(0.965,1)" font-size="29.5" fill="#262626" text-anchor="middle">0.2</text>
<text x="0" y="0" transform="translate(877.5,723.9) scale(0.965,1)" font-size="29.5" fill="#262626" text-anchor="middle">0.4</text>
<text x="0" y="0" transform="translate(676.3,698.1) scale(0.965,1)" font-size="29.2" fill="#262626" text-anchor="end">0</text>
<text x="0" y="0" transform="translate(676.3,607.4) scale(0.965,1)" font-size="29.2" fill="#262626" text-anchor="end">0.05</text>
<text x="0" y="0" transform="translate(676.3,516.8) scale(0.965,1)" font-size="29.2" fill="#262626" text-anchor="end">0.1</text>
<clipPath id="hc3"><rect x="976.5" y="451.5" width="222.5" height="235.70000000000005"/></clipPath>
<g clip-path="url(#hc3)">
<path d="M1016.20,687.2L1016.20,685.19L1019.22,685.19L1019.22,683.18L1022.23,683.18L1022.23,679.16L1025.25,679.16L1025.25,671.12L1028.26,671.12L1028.26,661.07L1031.28,661.07L1031.28,647.00L1034.29,647.00L1034.29,630.92L1037.31,630.92L1037.31,610.82L1040.32,610.82L1040.32,590.72L1043.34,590.72L1043.34,574.64L1046.35,574.64L1046.35,562.58L1049.37,562.58L1049.37,554.54L1052.38,554.54L1052.38,538.46L1055.40,538.46L1055.40,534.44L1060.00,534.44L1060.00,532.30L1062.01,532.30L1062.01,540.35L1065.03,540.35L1065.03,555.44L1068.45,555.44L1068.45,573.54L1071.67,573.54L1071.67,593.66L1074.69,593.66L1074.69,612.77L1078.11,612.77L1078.11,629.87L1081.52,629.87L1081.52,643.95L1084.54,643.95L1084.54,656.02L1087.76,656.02L1087.76,666.08L1091.18,666.08L1091.18,673.12L1094.20,673.12L1094.20,678.15L1097.62,678.15L1097.62,682.17L1100.84,682.17L1100.84,684.18L1104.26,684.18L1104.26,685.19L1107.68,685.19L1107.68,686.19L1120.35,686.19L1120.35,687.20L1123.45,687.20L1123.45,687.2Z" fill="#ff8020" fill-opacity="0.5"/>
<path d="M992.08,687.2L992.08,686.19L995.10,686.19L995.10,685.19L998.51,685.19L998.51,683.18L1001.73,683.18L1001.73,680.16L1004.74,680.16L1004.74,677.15L1008.16,677.15L1008.16,672.12L1011.18,672.12L1011.18,665.09L1014.59,665.09L1014.59,651.02L1017.61,651.02L1017.61,636.95L1020.62,636.95L1020.62,617.85L1024.24,617.85L1024.24,596.75L1027.26,596.75L1027.26,576.65L1030.67,576.65L1030.67,553.53L1033.89,553.53L1033.89,536.45L1037.31,536.45L1037.31,514.34L1040.32,514.34L1040.32,519.36L1043.34,519.36L1043.34,524.39L1046.35,524.39L1046.35,538.46L1049.37,538.46L1049.37,560.57L1052.38,560.57L1052.38,586.70L1055.40,586.70L1055.40,608.81L1058.41,608.81L1058.41,635.94L1061.43,635.94L1061.43,653.03L1064.44,653.03L1064.44,666.09L1067.46,666.09L1067.46,675.14L1070.47,675.14L1070.47,681.17L1073.49,681.17L1073.49,684.18L1076.50,684.18L1076.50,685.59L1079.52,685.59L1079.52,687.20L1082.62,687.20L1082.62,687.2Z" fill="#00b000" fill-opacity="0.5"/>
</g>
<line x1="1040.9" y1="531.1" x2="1059.3" y2="531.1" stroke="#000" stroke-width="1.5" stroke-dasharray="1.5,1.5"/>
<polyline points="1045.9,526.1 1040.9,531.1 1045.9,536.1" fill="none" stroke="#000" stroke-width="1.5"/>
<polyline points="1054.3,526.1 1059.3,531.1 1054.3,536.1" fill="none" stroke="#000" stroke-width="1.5"/>
<polyline points="1050.7,531.1 1050.7,513.9 1059.6,513.9" fill="none" stroke="#000" stroke-width="1.6"/>
<rect x="976.5" y="451.5" width="222.5" height="235.70000000000005" fill="none" stroke="#262626" stroke-width="2.3"/>
<line x1="1040.1" y1="687.2" x2="1040.1" y2="683.7" stroke="#262626" stroke-width="2"/>
<line x1="1040.1" y1="451.5" x2="1040.1" y2="455.0" stroke="#262626" stroke-width="2"/>
<line x1="1103.6" y1="687.2" x2="1103.6" y2="683.7" stroke="#262626" stroke-width="2"/>
<line x1="1103.6" y1="451.5" x2="1103.6" y2="455.0" stroke="#262626" stroke-width="2"/>
<line x1="1167.2" y1="687.2" x2="1167.2" y2="683.7" stroke="#262626" stroke-width="2"/>
<line x1="1167.2" y1="451.5" x2="1167.2" y2="455.0" stroke="#262626" stroke-width="2"/>
<line x1="976.5" y1="596.5" x2="980.0" y2="596.5" stroke="#262626" stroke-width="2"/>
<line x1="1199.0" y1="596.5" x2="1195.5" y2="596.5" stroke="#262626" stroke-width="2"/>
<line x1="976.5" y1="505.9" x2="980.0" y2="505.9" stroke="#262626" stroke-width="2"/>
<line x1="1199.0" y1="505.9" x2="1195.5" y2="505.9" stroke="#262626" stroke-width="2"/>
<line x1="1039.9" y1="686.2" x2="1039.9" y2="514.3" stroke="#00b400" stroke-width="2.4"/>
<line x1="1060.3" y1="686.2" x2="1060.3" y2="531.1" stroke="#ff8020" stroke-width="2"/>
<text x="0" y="0" transform="translate(976.5,723.9) scale(0.965,1)" font-size="29.5" fill="#262626" text-anchor="middle">-0.2</text>
<text x="0" y="0" transform="translate(1040.1,723.9) scale(0.965,1)" font-size="29.5" fill="#262626" text-anchor="middle">0</text>
<text x="0" y="0" transform="translate(1103.6,723.9) scale(0.965,1)" font-size="29.5" fill="#262626" text-anchor="middle">0.2</text>
<text x="0" y="0" transform="translate(1167.2,723.9) scale(0.965,1)" font-size="29.5" fill="#262626" text-anchor="middle">0.4</text>
<text x="0" y="0" transform="translate(966.0,698.1) scale(0.965,1)" font-size="29.2" fill="#262626" text-anchor="end">0</text>
<text x="0" y="0" transform="translate(966.0,607.4) scale(0.965,1)" font-size="29.2" fill="#262626" text-anchor="end">0.05</text>
<text x="0" y="0" transform="translate(966.0,516.8) scale(0.965,1)" font-size="29.2" fill="#262626" text-anchor="end">0.1</text>
<clipPath id="hc4"><rect x="1265.5" y="451.5" width="222.5" height="235.70000000000005"/></clipPath>
<g clip-path="url(#hc4)">
<path d="M1265.88,687.2L1265.88,686.70L1276.57,686.70L1276.57,686.32L1284.73,686.32L1284.73,684.44L1291.02,684.44L1291.02,682.55L1297.30,682.55L1297.30,680.67L1300.44,680.67L1300.44,678.78L1303.58,678.78L1303.58,676.90L1306.72,676.90L1306.72,675.64L1309.87,675.64L1309.87,673.13L1313.01,673.13L1313.01,669.36L1316.15,669.36L1316.15,663.07L1319.29,663.07L1319.29,656.16L1322.43,656.16L1322.43,649.88L1325.57,649.88L1325.57,639.83L1328.71,639.83L1328.71,630.40L1331.86,630.40L1331.86,621.61L1335.00,621.61L1335.00,611.55L1338.14,611.55L1338.14,599.62L1341.28,599.62L1341.28,588.93L1344.42,588.93L1344.42,581.39L1347.56,581.39L1347.56,577.00L1350.71,577.00L1350.71,574.48L1353.85,574.48L1353.85,573.85L1356.99,573.85L1356.99,576.37L1360.13,576.37L1360.13,580.77L1363.27,580.77L1363.27,585.79L1366.41,585.79L1366.41,593.33L1369.55,593.33L1369.55,604.01L1371.01,604.01L1371.01,615.95L1373.77,615.95L1373.77,626.63L1376.91,626.63L1376.91,637.31L1380.05,637.31L1380.05,647.37L1383.19,647.37L1383.19,654.91L1386.34,654.91L1386.34,663.07L1389.48,663.07L1389.48,667.47L1392.62,667.47L1392.62,672.50L1395.76,672.50L1395.76,676.27L1398.90,676.27L1398.90,680.04L1402.04,680.04L1402.04,681.92L1405.18,681.92L1405.18,683.81L1408.33,683.81L1408.33,685.06L1411.47,685.06L1411.47,685.69L1414.61,685.69L1414.61,686.32L1417.75,686.32L1417.75,686.70L1426.55,686.70L1426.55,687.20L1429.65,687.20L1429.65,687.2Z" fill="#ff8020" fill-opacity="0.5"/>
<path d="M1265.88,687.2L1265.88,681.92L1269.03,681.92L1269.03,680.04L1272.17,680.04L1272.17,679.41L1275.31,679.41L1275.31,677.52L1278.45,677.52L1278.45,675.01L1281.59,675.01L1281.59,671.24L1284.73,671.24L1284.73,667.47L1287.88,667.47L1287.88,663.07L1291.02,663.07L1291.02,659.30L1294.16,659.30L1294.16,653.65L1297.30,653.65L1297.30,647.99L1300.44,647.99L1300.44,641.71L1303.58,641.71L1303.58,634.80L1306.72,634.80L1306.72,629.15L1309.87,629.15L1309.87,624.75L1313.01,624.75L1313.01,615.95L1316.15,615.95L1316.15,610.92L1319.29,610.92L1319.29,605.27L1322.43,605.27L1322.43,602.76L1325.57,602.76L1325.57,598.36L1328.71,598.36L1328.71,598.36L1331.86,598.36L1331.86,597.73L1335.00,597.73L1335.00,597.10L1338.14,597.10L1338.14,596.47L1341.28,596.47L1341.28,599.62L1344.42,599.62L1344.42,605.27L1347.56,605.27L1347.56,611.55L1350.71,611.55L1350.71,619.09L1353.85,619.09L1353.85,626.63L1356.99,626.63L1356.99,637.94L1360.13,637.94L1360.13,646.11L1363.27,646.11L1363.27,653.65L1366.41,653.65L1366.41,662.45L1369.55,662.45L1369.55,668.73L1372.70,668.73L1372.70,672.50L1375.84,672.50L1375.84,675.64L1378.98,675.64L1378.98,678.15L1382.12,678.15L1382.12,681.92L1383.19,681.92L1383.19,682.55L1386.34,682.55L1386.34,684.44L1389.48,684.44L1389.48,685.69L1392.62,685.69L1392.62,686.32L1395.76,686.32L1395.76,687.20L1398.86,687.20L1398.86,687.2Z" fill="#00b000" fill-opacity="0.5"/>
</g>
<line x1="1330.0" y1="573.9" x2="1352.0" y2="573.9" stroke="#000" stroke-width="1.5" stroke-dasharray="1.5,1.5"/>
<polyline points="1335.0,568.9 1330.0,573.9 1335.0,578.9" fill="none" stroke="#000" stroke-width="1.5"/>
<polyline points="1347.0,568.9 1352.0,573.9 1347.0,578.9" fill="none" stroke="#000" stroke-width="1.5"/>
<polyline points="1341.7,573.9 1341.7,555.7 1352.6,555.7" fill="none" stroke="#000" stroke-width="1.6"/>
<rect x="1265.5" y="451.5" width="222.5" height="235.70000000000005" fill="none" stroke="#262626" stroke-width="2.3"/>
<line x1="1329.1" y1="687.2" x2="1329.1" y2="683.7" stroke="#262626" stroke-width="2"/>
<line x1="1329.1" y1="451.5" x2="1329.1" y2="455.0" stroke="#262626" stroke-width="2"/>
<line x1="1392.6" y1="687.2" x2="1392.6" y2="683.7" stroke="#262626" stroke-width="2"/>
<line x1="1392.6" y1="451.5" x2="1392.6" y2="455.0" stroke="#262626" stroke-width="2"/>
<line x1="1456.2" y1="687.2" x2="1456.2" y2="683.7" stroke="#262626" stroke-width="2"/>
<line x1="1456.2" y1="451.5" x2="1456.2" y2="455.0" stroke="#262626" stroke-width="2"/>
<line x1="1265.5" y1="596.5" x2="1269.0" y2="596.5" stroke="#262626" stroke-width="2"/>
<line x1="1488.0" y1="596.5" x2="1484.5" y2="596.5" stroke="#262626" stroke-width="2"/>
<line x1="1265.5" y1="505.9" x2="1269.0" y2="505.9" stroke="#262626" stroke-width="2"/>
<line x1="1488.0" y1="505.9" x2="1484.5" y2="505.9" stroke="#262626" stroke-width="2"/>
<line x1="1329.0" y1="686.2" x2="1329.0" y2="574" stroke="#00b400" stroke-width="2.4"/>
<line x1="1353.0" y1="686.2" x2="1353.0" y2="574" stroke="#ff8020" stroke-width="2"/>
<text x="0" y="0" transform="translate(1265.5,723.9) scale(0.965,1)" font-size="29.5" fill="#262626" text-anchor="middle">-0.2</text>
<text x="0" y="0" transform="translate(1329.1,723.9) scale(0.965,1)" font-size="29.5" fill="#262626" text-anchor="middle">0</text>
<text x="0" y="0" transform="translate(1392.6,723.9) scale(0.965,1)" font-size="29.5" fill="#262626" text-anchor="middle">0.2</text>
<text x="0" y="0" transform="translate(1456.2,723.9) scale(0.965,1)" font-size="29.5" fill="#262626" text-anchor="middle">0.4</text>
<text x="0" y="0" transform="translate(1255.0,698.1) scale(0.965,1)" font-size="29.2" fill="#262626" text-anchor="end">0</text>
<text x="0" y="0" transform="translate(1255.0,607.4) scale(0.965,1)" font-size="29.2" fill="#262626" text-anchor="end">0.05</text>
<text x="0" y="0" transform="translate(1255.0,516.8) scale(0.965,1)" font-size="29.2" fill="#262626" text-anchor="end">0.1</text>
<rect x="1280.3" y="468.4" width="36.6" height="20.7" fill="#00b000" fill-opacity="0.5"/>
<rect x="1280.3" y="500.2" width="36.6" height="20.7" fill="#ff8020" fill-opacity="0.5"/>
<clipPath id="kclip"><rect x="89.3" y="835.1" width="601.3" height="276.2"/></clipPath>
<g clip-path="url(#kclip)" fill="none" stroke-linejoin="round" stroke-linecap="round">
<polyline points="90.1,1052.0 92.3,1051.9 94.4,1051.8 96.6,1054.2 99.2,1058.1 101.9,1060.6 104.0,1055.0 106.2,1053.6 108.3,1049.9 111.0,1050.9 113.7,1053.1 115.8,1048.6 117.9,1048.3 120.6,1049.7 123.3,1051.0 125.9,1050.4 128.6,1054.2 130.8,1055.6 132.9,1055.7 135.1,1059.5 137.2,1058.9 139.3,1061.8 141.5,1065.1 143.6,1064.9 145.7,1062.4 147.9,1062.1 150.0,1062.7 152.1,1060.5 154.3,1059.2 156.4,1054.2 158.6,1054.9 160.7,1054.4 162.9,1055.2 165.0,1058.2 167.2,1054.5 169.3,1057.4 171.4,1058.4 173.6,1054.9 175.7,1055.2 177.8,1054.9 180.0,1056.2 182.1,1059.5 184.2,1058.6 186.4,1061.0 188.5,1059.5 190.7,1057.3 192.8,1058.5 195.0,1057.4 197.1,1058.4 199.3,1057.5 201.4,1058.4 204.1,1059.7 206.7,1060.6 208.8,1056.7 211.0,1054.9 213.1,1055.2 215.3,1053.8 217.4,1056.1 219.6,1055.2 221.7,1055.2 223.9,1055.0 226.0,1056.3 228.7,1053.5 231.3,1049.9 233.4,1051.8 235.6,1054.2 238.2,1056.4 240.9,1060.6 242.9,1059.6 245.0,1055.8 247.5,1058.6 250.1,1058.2 252.6,1061.2 255.1,1060.5 257.7,1059.2 260.2,1058.0 262.8,1057.2 265.3,1054.0 267.9,1050.3 270.4,1044.9 273.0,1043.9 275.5,1037.3 277.7,1038.4 279.8,1042.7 282.0,1046.0 284.2,1046.5 286.3,1042.9 288.5,1043.8 290.7,1047.0 292.9,1050.3 295.1,1047.0 297.2,1049.0 299.4,1048.3 301.6,1046.0 303.8,1047.5 305.9,1050.0 308.1,1049.3 310.6,1051.6 313.2,1056.7 315.7,1059.0 317.9,1054.4 320.1,1049.3 322.3,1043.8 324.5,1044.7 326.6,1047.6 328.8,1049.2 331.0,1048.2 333.5,1050.6 336.1,1054.1 338.6,1055.8 340.8,1055.1 342.9,1059.6 345.1,1060.1 347.3,1056.5 349.5,1051.4 352.2,1056.5 354.9,1056.9 357.5,1057.0 360.0,1052.9 362.6,1052.5 365.1,1052.3 367.7,1054.0 370.2,1053.6 372.7,1053.1 375.3,1057.0 377.8,1059.0 380.0,1054.9 382.1,1052.1 384.3,1051.4 386.5,1046.0 388.7,1046.2 390.9,1041.6 393.1,1037.3 395.2,1035.3 397.4,1034.0 399.6,1034.2 401.7,1037.2 403.9,1036.2 406.3,1035.3 408.7,1038.4 410.9,1037.3 413.1,1036.9 415.2,1037.6 417.4,1036.4 419.6,1034.0 421.8,1036.3 424.0,1034.0 426.1,1035.2 428.3,1036.2 430.8,1034.8 433.4,1036.6 435.9,1034.0 438.1,1035.4 440.2,1030.7 442.4,1030.0 444.6,1030.7 447.4,1034.3 450.1,1040.5 452.2,1042.0 454.4,1046.0 457.1,1042.7 459.9,1039.5 462.6,1036.6 465.3,1032.9 468.0,1035.1 470.7,1039.5 472.9,1042.0 475.1,1049.3 477.3,1055.8 479.8,1055.4 482.4,1055.2 484.9,1055.8 487.1,1058.3 489.2,1062.3 491.4,1062.3 493.6,1059.4 495.8,1054.7 499.0,1049.3 501.8,1052.6 504.5,1055.8 506.6,1060.2 508.8,1063.4 511.0,1062.4 513.2,1057.7 515.4,1058.0 517.6,1058.5 519.7,1056.4 521.9,1053.6 524.4,1055.0 527.0,1054.3 529.5,1052.5 532.2,1046.5 535.0,1041.6 537.7,1037.3 540.4,1034.0 542.6,1029.9 544.7,1030.3 546.9,1027.5 552.6,1006.6 558.8,933.3 565.1,885.1 571.4,872.6 579.8,876.8 585.0,912.4 589.2,964.7 594.5,1017.1 600.7,1033.8 609.1,1044.3 611.2,1043.9 613.3,1045.6 615.4,1047.9 617.5,1049.4 619.6,1052.7 621.7,1053.0 623.8,1052.7 625.9,1053.5 628.0,1056.9 630.1,1055.2 632.2,1055.0 634.2,1056.2 636.3,1054.6 638.4,1058.7 640.5,1056.9 642.6,1055.8 644.7,1051.9 646.8,1050.7 648.9,1049.4 651.0,1048.5 653.1,1045.7 655.2,1042.5 657.3,1042.2 659.4,1046.0 661.5,1048.8 663.6,1048.3 665.7,1050.6 667.8,1051.4 669.9,1050.3 671.9,1051.2 674.0,1053.2 676.1,1054.8 678.2,1054.9 680.3,1058.9 682.4,1056.9 684.5,1057.5 686.6,1061.0 689.7,1060.0" stroke="#ffb000" stroke-width="3.3" stroke-dasharray="10,3,4,3" stroke-linecap="butt"/>
<path d="M90.1,1048.3C90.6,1048.1 92.0,1046.4 93.3,1047.2C94.5,1048.0 96.0,1050.3 97.6,1053.1C99.2,1055.9 101.4,1061.1 103.0,1063.8C104.6,1066.5 105.7,1070.0 107.3,1069.1C108.9,1068.2 111.0,1062.1 112.6,1058.4C114.2,1054.7 115.7,1049.0 116.9,1046.7C118.2,1044.4 118.8,1044.0 120.1,1044.5C121.3,1045.0 123.2,1046.2 124.4,1049.9C125.7,1053.7 126.3,1062.4 127.6,1067.0C128.8,1071.6 130.7,1076.6 131.9,1077.7C133.2,1078.8 134.0,1077.0 135.1,1073.4C136.2,1069.8 137.4,1059.7 138.3,1056.3C139.2,1052.9 139.5,1051.7 140.4,1053.1C141.3,1054.5 142.3,1060.1 143.6,1064.9C144.8,1069.7 146.5,1079.9 147.9,1082.0C149.3,1084.1 150.8,1082.0 152.2,1077.7C153.6,1073.4 155.0,1063.8 156.4,1056.3C157.8,1048.8 159.4,1037.1 160.7,1032.8C161.9,1028.5 162.8,1029.9 163.9,1030.6C165.0,1031.3 165.8,1034.6 167.1,1037.1C168.3,1039.6 170.0,1043.1 171.4,1045.6C172.8,1048.1 174.3,1049.3 175.7,1052.0C177.1,1054.7 178.6,1061.3 180.0,1061.7C181.4,1062.1 182.9,1055.1 184.3,1054.2C185.7,1053.3 187.1,1054.3 188.5,1056.3C189.9,1058.2 191.2,1064.8 192.8,1065.9C194.4,1067.0 196.4,1062.2 198.2,1062.7C200.0,1063.2 201.7,1069.1 203.5,1069.1C205.3,1069.1 207.1,1064.5 208.9,1062.7C210.7,1060.9 212.4,1058.0 214.2,1058.4C216.0,1058.8 218.2,1063.1 219.6,1064.9C221.0,1066.7 221.6,1071.1 222.8,1069.1C224.0,1067.1 225.6,1056.5 227.0,1053.1C228.4,1049.7 229.7,1049.7 231.3,1048.8C232.9,1047.9 235.1,1046.7 236.7,1047.8C238.3,1048.9 239.5,1053.4 240.9,1055.2C242.3,1057.0 243.8,1060.3 245.2,1058.4C246.6,1056.5 248.0,1043.9 249.4,1043.8C250.8,1043.7 252.1,1052.4 253.7,1058.0C255.3,1063.6 257.3,1076.4 259.1,1077.5C260.9,1078.6 262.6,1068.3 264.6,1064.5C266.6,1060.7 268.9,1057.2 271.1,1054.7C273.3,1052.2 275.5,1052.0 277.7,1049.3C279.9,1046.6 282.0,1040.4 284.2,1038.4C286.4,1036.4 288.7,1034.8 290.7,1037.3C292.7,1039.8 294.6,1048.5 296.2,1053.6C297.8,1058.7 299.2,1064.2 300.5,1067.8C301.8,1071.4 302.4,1075.6 303.8,1075.4C305.2,1075.2 307.4,1070.0 309.2,1066.7C311.0,1063.4 312.7,1059.2 314.7,1055.8C316.7,1052.3 319.2,1047.8 321.2,1046.0C323.2,1044.2 325.0,1042.9 326.6,1044.9C328.2,1046.9 329.7,1054.4 331.0,1058.0C332.3,1061.6 332.9,1067.2 334.3,1066.7C335.8,1066.2 338.2,1056.5 339.7,1054.7C341.1,1052.9 341.7,1053.6 343.0,1055.8C344.3,1058.0 345.7,1066.7 347.3,1067.8C348.9,1068.9 351.0,1063.2 352.8,1062.3C354.6,1061.4 356.2,1065.2 358.2,1062.3C360.2,1059.4 362.7,1045.8 364.7,1044.9C366.7,1044.0 368.4,1052.0 370.2,1056.9C372.0,1061.8 373.6,1072.1 375.6,1074.3C377.6,1076.5 379.7,1073.4 382.1,1069.9C384.5,1066.5 387.4,1060.7 389.8,1053.6C392.2,1046.5 394.6,1032.2 396.3,1027.5C398.0,1022.8 398.5,1024.9 400.0,1025.3C401.5,1025.7 403.0,1029.7 405.4,1029.7C407.8,1029.7 411.6,1024.2 414.1,1025.3C416.7,1026.4 418.9,1032.6 420.7,1036.2C422.5,1039.8 423.6,1046.5 425.0,1047.1C426.4,1047.6 427.6,1042.4 429.4,1039.5C431.2,1036.6 433.9,1030.6 435.9,1029.7C437.9,1028.8 439.8,1033.7 441.4,1034.0C443.0,1034.3 444.2,1033.4 445.7,1031.8C447.1,1030.2 448.7,1024.5 450.1,1024.2C451.6,1023.9 452.9,1026.6 454.4,1029.7C455.8,1032.8 457.2,1038.0 458.8,1042.7C460.4,1047.4 462.4,1054.4 464.2,1058.0C466.0,1061.6 467.7,1064.5 469.7,1064.5C471.7,1064.5 473.8,1060.5 476.2,1058.0C478.6,1055.5 481.8,1049.0 483.8,1049.3C485.8,1049.6 486.8,1057.6 488.2,1060.1C489.6,1062.6 490.5,1063.8 492.5,1064.5C494.5,1065.2 497.7,1066.7 500.1,1064.5C502.5,1062.3 504.9,1051.4 506.7,1051.4C508.5,1051.4 509.6,1061.8 511.0,1064.5C512.5,1067.2 513.9,1070.0 515.4,1067.8C516.9,1065.6 517.9,1054.0 519.7,1051.4C521.5,1048.9 524.5,1049.2 526.3,1052.5C528.1,1055.8 529.0,1067.4 530.6,1071.0C532.2,1074.6 534.8,1076.5 536.1,1074.3C537.4,1072.1 537.6,1063.7 538.2,1058.0C538.9,1052.3 539.0,1048.7 540.0,1040.1C541.0,1031.5 542.5,1022.6 544.2,1006.6C546.0,990.6 548.4,961.2 550.5,943.8C552.6,926.3 554.7,913.2 556.8,901.9C558.9,890.5 560.6,880.6 563.0,875.7C565.4,870.8 568.6,872.4 571.4,872.6C574.2,872.8 577.3,871.9 579.8,876.8C582.2,881.7 584.4,892.5 586.1,901.9C587.9,911.3 588.9,919.3 590.3,933.3C591.7,947.3 592.9,967.9 594.5,985.7C596.1,1003.5 598.0,1023.3 599.7,1040.1C601.4,1056.8 603.1,1075.4 604.9,1086.2C606.6,1097.0 608.5,1105.3 610.2,1105.0C612.0,1104.7 613.5,1091.8 615.4,1084.1C617.3,1076.4 619.6,1061.1 621.7,1059.0C623.8,1056.9 626.3,1068.0 628.0,1071.5C629.7,1075.0 630.0,1080.6 632.1,1079.9C634.2,1079.2 637.4,1071.8 640.5,1067.3C643.6,1062.8 648.2,1057.9 651.0,1052.7C653.8,1047.5 655.2,1040.1 657.3,1035.9C659.4,1031.7 661.5,1027.2 663.6,1027.5C665.7,1027.8 667.4,1033.5 669.8,1038.0C672.2,1042.5 675.4,1051.0 678.2,1054.8C681.0,1058.6 684.7,1059.8 686.6,1061.0C688.5,1062.2 689.2,1061.8 689.7,1062.0" stroke="#ff0000" stroke-width="3.4" stroke-dasharray="10,3,4,3" stroke-linecap="butt"/>
<path d="M90.1,1068.1C92.1,1067.9 99.0,1066.1 101.9,1067.0C104.8,1067.9 105.3,1071.5 107.3,1073.4C109.3,1075.3 111.8,1078.6 113.7,1078.2C115.7,1077.8 117.0,1074.4 119.0,1071.3C121.0,1068.2 123.4,1061.3 125.4,1059.5C127.4,1057.7 128.7,1059.7 130.8,1060.6C133.0,1061.5 136.2,1062.6 138.3,1064.9C140.4,1067.2 141.7,1072.7 143.6,1074.5C145.5,1076.3 147.5,1074.2 150.0,1075.6C152.5,1077.0 156.1,1082.2 158.6,1083.0C161.1,1083.8 162.5,1080.2 165.0,1080.4C167.5,1080.6 171.1,1084.1 173.6,1084.1C176.1,1084.1 177.9,1082.0 180.0,1080.4C182.1,1078.8 184.1,1075.8 186.4,1074.5C188.7,1073.2 191.6,1074.9 193.9,1072.4C196.2,1069.9 198.2,1064.3 200.3,1059.5C202.4,1054.7 204.4,1047.4 206.7,1043.5C209.0,1039.6 211.9,1038.7 214.2,1036.0C216.5,1033.3 218.6,1029.4 220.6,1027.4C222.6,1025.4 224.0,1023.5 226.0,1024.2C228.0,1024.9 230.6,1028.9 232.4,1031.7C234.2,1034.5 235.1,1038.8 236.7,1041.3C238.3,1043.8 240.6,1043.6 242.0,1046.7C243.4,1049.8 243.4,1056.4 245.0,1060.1C246.6,1063.8 249.2,1066.4 251.5,1068.8C253.8,1071.2 256.4,1074.1 259.1,1074.3C261.8,1074.5 265.0,1073.7 267.9,1069.9C270.8,1066.1 274.1,1056.8 276.6,1051.4C279.1,1046.0 280.9,1040.2 283.1,1037.3C285.3,1034.4 287.1,1035.9 289.6,1034.0C292.1,1032.1 295.4,1027.6 298.3,1025.9C301.2,1024.2 304.3,1025.1 307.0,1023.7C309.7,1022.3 312.0,1019.3 314.7,1017.7C317.4,1016.1 320.9,1013.7 323.4,1013.9C325.9,1014.1 327.4,1016.7 329.9,1018.8C332.4,1020.9 335.7,1024.4 338.6,1026.4C341.5,1028.4 344.9,1027.6 347.3,1030.7C349.7,1033.8 351.0,1040.0 352.8,1044.9C354.6,1049.8 355.9,1055.2 358.2,1060.1C360.5,1065.0 363.4,1069.8 366.9,1074.3C370.3,1078.8 375.1,1086.0 378.9,1087.3C382.7,1088.6 386.7,1085.0 389.8,1081.9C392.9,1078.8 395.7,1071.7 397.4,1068.8C399.1,1065.9 397.8,1070.7 400.0,1064.5C402.2,1058.3 407.1,1038.1 410.9,1031.8C414.7,1025.5 420.0,1027.2 422.9,1026.9C425.8,1026.6 426.1,1027.4 428.3,1029.7C430.5,1032.0 433.0,1036.7 435.9,1040.5C438.8,1044.3 443.1,1048.9 445.7,1052.5C448.2,1056.1 449.4,1058.7 451.2,1062.3C453.0,1065.9 455.0,1071.8 456.6,1074.3C458.2,1076.8 459.2,1077.9 461.0,1077.5C462.8,1077.1 464.6,1073.0 467.5,1072.1C470.4,1071.2 474.8,1072.3 478.4,1072.1C482.0,1071.9 486.0,1071.6 489.3,1071.0C492.6,1070.4 494.8,1068.7 498.0,1068.3C501.2,1067.9 505.7,1068.3 508.8,1068.8C511.9,1069.2 513.6,1071.0 516.5,1071.0C519.4,1071.0 523.4,1070.1 526.3,1068.8C529.2,1067.5 531.4,1066.1 533.9,1063.4C536.4,1060.7 539.0,1056.1 541.5,1052.5C544.0,1048.9 547.1,1047.9 549.1,1041.6C551.1,1035.2 552.2,1024.4 553.5,1014.4C554.8,1004.4 555.5,1000.5 556.7,981.8C557.9,963.0 559.1,919.8 560.9,901.9C562.6,884.0 564.8,879.8 567.2,874.7C569.7,869.6 573.3,870.5 575.6,871.5C577.9,872.5 579.2,872.4 580.8,880.9C582.4,889.4 583.8,905.3 585.0,922.8C586.2,940.3 587.2,967.9 588.2,985.7C589.2,1003.5 589.7,1022.8 591.3,1029.6C592.9,1036.4 595.3,1025.8 597.6,1026.5C599.9,1027.2 602.6,1032.9 604.9,1033.8C607.2,1034.7 609.1,1029.8 611.2,1031.7C613.3,1033.6 615.0,1044.1 617.5,1045.3C620.0,1046.5 622.4,1040.1 625.9,1039.1C629.4,1038.1 634.9,1040.5 638.4,1039.1C641.9,1037.7 644.0,1030.9 646.8,1030.7C649.6,1030.5 652.1,1036.1 655.2,1038.0C658.4,1039.9 661.9,1040.8 665.7,1042.2C669.5,1043.6 674.7,1044.5 678.2,1046.4C681.7,1048.3 684.7,1052.8 686.6,1053.7C688.5,1054.6 689.2,1052.3 689.7,1052.0" stroke="#00b000" stroke-width="3.6"/>
<path d="M90.1,1065.9C92.1,1066.1 97.8,1066.7 101.9,1067.0C106.0,1067.3 111.0,1068.9 114.7,1067.5C118.5,1066.1 122.1,1060.1 124.4,1058.4C126.7,1056.7 126.3,1056.5 128.6,1057.4C130.9,1058.3 135.6,1061.3 138.3,1063.8C141.0,1066.3 142.4,1070.9 144.7,1072.4C147.0,1073.9 149.9,1072.0 152.2,1072.9C154.5,1073.8 155.9,1077.2 158.6,1077.7C161.3,1078.2 165.3,1076.5 168.2,1076.1C171.0,1075.6 173.0,1075.5 175.7,1075.0C178.4,1074.5 182.0,1073.5 184.3,1072.9C186.6,1072.3 187.8,1073.3 189.6,1071.3C191.4,1069.2 192.3,1066.3 195.0,1060.6C197.7,1054.9 202.4,1043.3 205.6,1037.1C208.8,1030.9 211.1,1027.3 214.2,1023.2C217.3,1019.1 221.6,1013.2 224.4,1012.5C227.2,1011.8 228.7,1014.6 231.3,1018.9C233.9,1023.2 237.6,1032.7 239.9,1038.1C242.2,1043.5 243.1,1047.0 245.0,1051.4C246.9,1055.8 248.8,1061.0 251.5,1064.5C254.2,1068.0 258.4,1072.1 261.3,1072.1C264.2,1072.1 266.2,1069.0 268.9,1064.5C271.6,1060.0 275.1,1051.1 277.7,1044.9C280.2,1038.7 281.3,1033.1 284.2,1027.5C287.1,1021.9 291.5,1015.4 295.1,1011.2C298.7,1007.0 302.7,1004.6 306.0,1002.4C309.3,1000.2 312.1,999.9 314.7,998.1C317.3,996.3 319.5,991.6 321.7,991.6C323.9,991.6 325.4,993.8 327.7,998.1C330.0,1002.5 332.9,1013.4 335.3,1017.7C337.7,1022.1 339.7,1022.4 341.9,1024.2C344.1,1026.0 346.4,1025.5 348.4,1028.6C350.4,1031.7 351.8,1036.5 353.8,1042.7C355.8,1048.9 357.8,1059.4 360.4,1065.6C362.9,1071.8 366.0,1075.9 369.1,1079.7C372.2,1083.5 375.6,1088.2 378.9,1088.4C382.2,1088.6 385.6,1084.2 388.7,1080.8C391.8,1077.4 395.5,1070.9 397.4,1067.8C399.3,1064.7 398.1,1066.7 400.0,1062.3C401.9,1057.9 406.3,1046.3 408.7,1041.6C411.1,1036.9 411.9,1035.8 414.1,1034.0C416.3,1032.2 419.8,1030.9 421.8,1030.7C423.8,1030.5 424.1,1030.2 426.1,1032.9C428.1,1035.6 431.1,1043.3 433.7,1047.1C436.2,1050.9 439.4,1053.1 441.4,1055.8C443.4,1058.5 444.1,1060.0 445.7,1063.4C447.3,1066.9 449.2,1072.2 451.2,1076.5C453.2,1080.8 455.3,1087.5 457.7,1089.5C460.1,1091.5 462.6,1089.3 465.3,1088.4C468.0,1087.5 470.6,1084.1 474.0,1084.1C477.4,1084.1 482.4,1089.0 486.0,1088.4C489.6,1087.9 492.7,1082.5 495.8,1080.8C498.9,1079.1 501.6,1077.6 504.5,1078.1C507.4,1078.5 510.7,1083.6 513.2,1083.5C515.7,1083.4 517.5,1078.7 519.7,1077.5C521.9,1076.3 523.6,1077.4 526.3,1076.5C529.0,1075.6 533.6,1074.1 536.1,1072.1C538.6,1070.1 539.5,1068.1 541.5,1064.5C543.5,1060.9 546.1,1060.0 548.0,1050.3C549.9,1040.6 551.1,1024.3 552.6,1006.6C554.1,988.9 555.4,961.9 556.8,943.8C558.2,925.6 559.2,909.4 560.9,897.7C562.6,886.0 564.9,877.4 567.2,873.6C569.5,869.8 572.5,871.0 574.6,874.7C576.7,878.4 578.2,880.6 579.8,895.6C581.4,910.6 582.8,940.6 584.0,964.7C585.2,988.8 586.1,1025.4 587.1,1040.1C588.1,1054.8 588.7,1052.3 590.3,1052.7C591.9,1053.1 594.4,1041.9 596.5,1042.2C598.6,1042.5 600.7,1052.3 602.8,1054.8C604.9,1057.2 607.0,1053.6 609.1,1056.9C611.2,1060.2 612.6,1073.0 615.4,1074.7C618.2,1076.4 622.4,1067.5 625.9,1067.3C629.4,1067.1 632.8,1074.1 636.3,1073.6C639.8,1073.1 642.9,1065.8 646.8,1064.2C650.6,1062.6 655.6,1062.8 659.4,1064.2C663.2,1065.6 666.0,1071.4 669.8,1072.6C673.6,1073.8 679.1,1073.4 682.4,1071.5C685.7,1069.6 688.5,1062.8 689.7,1061.0" stroke="#a000c0" stroke-width="3.6"/>
<path d="M90.1,1063.3C92.1,1063.8 98.9,1066.2 101.9,1066.5C104.9,1066.8 106.2,1065.2 108.3,1065.4C110.4,1065.6 112.9,1067.9 114.7,1067.9C116.5,1067.9 117.4,1067.2 119.0,1065.4C120.6,1063.7 122.8,1059.0 124.4,1057.4C126.0,1055.8 127.0,1055.5 128.6,1055.8C130.2,1056.1 132.4,1058.5 134.0,1059.5C135.6,1060.5 136.7,1060.5 138.3,1061.7C139.9,1062.9 141.8,1065.8 143.6,1066.5C145.4,1067.2 147.2,1065.7 149.0,1066.1C150.8,1066.5 152.5,1068.0 154.3,1069.1C156.1,1070.1 157.4,1072.0 159.7,1072.4C162.0,1072.8 165.7,1071.3 168.2,1071.3C170.7,1071.3 172.5,1072.8 174.6,1072.4C176.7,1072.0 178.8,1070.1 181.0,1069.1C183.2,1068.1 185.7,1067.9 187.5,1066.5C189.3,1065.1 189.9,1063.4 191.7,1060.6C193.5,1057.8 196.0,1054.0 198.2,1049.9C200.3,1045.8 202.8,1039.8 204.6,1036.0C206.4,1032.2 207.3,1029.9 208.9,1027.4C210.5,1024.9 212.4,1023.4 214.2,1021.0C216.0,1018.6 217.8,1015.0 219.6,1013.0C221.4,1011.0 222.9,1008.8 224.9,1009.3C226.9,1009.8 229.2,1012.5 231.3,1015.7C233.4,1018.9 235.7,1024.8 237.7,1028.5C239.7,1032.2 241.9,1036.3 243.1,1038.1C244.3,1039.9 243.6,1037.1 245.0,1039.5C246.4,1041.9 249.0,1048.7 251.5,1052.5C254.0,1056.3 257.6,1061.8 260.2,1062.3C262.8,1062.8 264.4,1059.1 266.8,1055.8C269.2,1052.5 272.0,1046.7 274.4,1042.7C276.8,1038.7 279.4,1035.1 280.9,1031.8C282.3,1028.5 281.5,1026.4 283.1,1023.1C284.7,1019.8 288.7,1015.3 290.7,1012.2C292.7,1009.1 292.9,1007.3 295.1,1004.6C297.3,1001.9 300.9,998.2 303.8,995.9C306.7,993.5 309.6,992.4 312.5,990.5C315.4,988.6 318.3,984.1 321.2,984.5C324.1,984.9 326.8,989.0 329.9,992.7C333.0,996.4 336.6,1003.4 339.7,1006.8C342.8,1010.2 346.2,1010.9 348.4,1013.3C350.6,1015.7 351.0,1016.1 352.8,1021.0C354.6,1025.9 357.0,1036.4 359.3,1042.7C361.6,1049.0 364.2,1053.9 366.9,1059.0C369.6,1064.1 372.9,1070.5 375.6,1073.2C378.3,1075.9 380.6,1077.0 383.2,1075.4C385.8,1073.8 388.2,1068.5 390.9,1063.4C393.6,1058.3 397.2,1049.4 399.6,1044.9C402.0,1040.4 403.3,1040.4 405.4,1036.2C407.5,1032.0 410.0,1023.0 412.0,1019.9C414.0,1016.8 415.5,1018.3 417.4,1017.7C419.3,1017.1 421.6,1015.4 423.4,1016.1C425.2,1016.8 426.2,1019.2 428.3,1022.0C430.4,1024.8 433.4,1029.6 435.9,1032.9C438.4,1036.2 441.5,1038.7 443.5,1041.6C445.5,1044.5 446.3,1046.7 447.9,1050.3C449.5,1053.9 451.5,1059.9 453.3,1063.4C455.1,1067.0 456.4,1070.5 458.8,1071.6C461.2,1072.7 464.6,1070.5 467.5,1069.9C470.4,1069.4 472.6,1068.3 476.2,1068.3C479.8,1068.3 486.0,1070.7 489.3,1069.9C492.6,1069.1 493.5,1064.7 495.8,1063.4C498.1,1062.1 500.5,1061.7 503.4,1062.3C506.3,1062.9 510.3,1067.8 513.2,1067.2C516.1,1066.6 518.4,1059.6 520.8,1058.5C523.1,1057.4 525.3,1061.3 527.3,1060.7C529.3,1060.1 531.0,1055.9 532.8,1054.7C534.6,1053.5 536.4,1055.4 538.2,1053.6C540.0,1051.8 541.9,1046.1 543.7,1043.8C545.5,1041.5 548.0,1041.2 549.1,1039.5C550.2,1037.8 549.6,1042.8 550.5,1033.8C551.4,1024.8 553.5,1000.7 554.7,985.7C555.9,970.7 556.8,957.8 557.8,943.8C558.8,929.8 559.7,913.1 560.9,901.9C562.1,890.7 563.5,881.8 565.1,876.8C566.7,871.8 568.6,872.5 570.4,872.1C572.1,871.8 574.0,871.1 575.6,874.7C577.2,878.3 578.6,883.7 579.8,893.5C581.0,903.3 581.8,917.9 582.9,933.3C584.0,948.7 585.0,969.0 586.1,985.7C587.2,1002.5 588.2,1024.7 589.2,1033.8C590.2,1042.9 591.2,1040.8 592.4,1040.1C593.6,1039.4 594.8,1029.9 596.5,1029.6C598.2,1029.2 601.0,1036.6 602.8,1038.0C604.5,1039.4 605.2,1036.6 607.0,1038.0C608.8,1039.4 611.4,1043.6 613.3,1046.4C615.2,1049.2 616.4,1053.9 618.5,1054.8C620.6,1055.7 622.9,1051.4 625.9,1051.6C628.9,1051.8 632.8,1056.7 636.3,1055.8C639.8,1054.9 644.0,1047.6 646.8,1046.4C649.6,1045.2 650.6,1048.8 653.1,1048.5C655.6,1048.2 658.7,1044.0 661.5,1044.3C664.3,1044.6 667.0,1049.5 669.8,1050.6C672.6,1051.6 675.4,1049.7 678.2,1050.6C681.0,1051.5 684.7,1055.6 686.6,1055.8C688.5,1056.0 689.2,1052.3 689.7,1051.6" stroke="#0000ff" stroke-width="3.6"/>
</g>
<line x1="275.7" y1="982.6" x2="294" y2="982.6" stroke="#000" stroke-width="1.6"/>
<polygon points="298.5,982.6 289,978.2 291,982.6 289,987" fill="#000"/>
<line x1="302" y1="982.6" x2="342" y2="982.6" stroke="#000" stroke-width="2.6" stroke-dasharray="2.6,2.6"/>
<line x1="402.2" y1="1017.7" x2="442.4" y2="1017.7" stroke="#000" stroke-width="2.6" stroke-dasharray="2.6,2.6"/>
<line x1="453.9" y1="995.4" x2="446" y2="1009" stroke="#000" stroke-width="1.6"/>
<polygon points="444.1,1013.3 444.5,1003 447.5,1006.5 452,1006" fill="#000"/>
<line x1="101" y1="862.9" x2="131.4" y2="862.9" stroke="#0000ff" stroke-width="3.2"/>
<line x1="101" y1="896.8" x2="131.4" y2="896.8" stroke="#a000c0" stroke-width="3.2"/>
<line x1="101" y1="931.2" x2="131.4" y2="931.2" stroke="#00b000" stroke-width="3.2"/>
<line x1="322.5" y1="887.6" x2="353.4" y2="887.6" stroke="#ff0000" stroke-width="2.6" stroke-dasharray="7.5,3.3"/>
<line x1="322.5" y1="915.1" x2="353.4" y2="915.1" stroke="#ffb000" stroke-width="2.6" stroke-dasharray="7.5,3.3"/>
<rect x="89.3" y="835.1" width="601.3000000000001" height="276.19999999999993" fill="none" stroke="#262626" stroke-width="2.3"/>
<line x1="209.6" y1="1111.3" x2="209.6" y2="1105.8" stroke="#262626" stroke-width="2"/>
<line x1="209.6" y1="835.1" x2="209.6" y2="840.6" stroke="#262626" stroke-width="2"/>
<line x1="329.8" y1="1111.3" x2="329.8" y2="1105.8" stroke="#262626" stroke-width="2"/>
<line x1="329.8" y1="835.1" x2="329.8" y2="840.6" stroke="#262626" stroke-width="2"/>
<line x1="450.1" y1="1111.3" x2="450.1" y2="1105.8" stroke="#262626" stroke-width="2"/>
<line x1="450.1" y1="835.1" x2="450.1" y2="840.6" stroke="#262626" stroke-width="2"/>
<line x1="570.3" y1="1111.3" x2="570.3" y2="1105.8" stroke="#262626" stroke-width="2"/>
<line x1="570.3" y1="835.1" x2="570.3" y2="840.6" stroke="#262626" stroke-width="2"/>
<line x1="89.3" y1="1056.1" x2="94.8" y2="1056.1" stroke="#262626" stroke-width="2"/>
<line x1="690.6" y1="1056.1" x2="685.1" y2="1056.1" stroke="#262626" stroke-width="2"/>
<line x1="89.3" y1="964.0" x2="94.8" y2="964.0" stroke="#262626" stroke-width="2"/>
<line x1="690.6" y1="964.0" x2="685.1" y2="964.0" stroke="#262626" stroke-width="2"/>
<line x1="89.3" y1="871.9" x2="94.8" y2="871.9" stroke="#262626" stroke-width="2"/>
<line x1="690.6" y1="871.9" x2="685.1" y2="871.9" stroke="#262626" stroke-width="2"/>
<text x="0" y="0" transform="translate(89.3,1148.7) scale(1.03,1)" font-size="30.5" fill="#262626" text-anchor="middle">0</text>
<text x="0" y="0" transform="translate(209.6,1148.7) scale(1.03,1)" font-size="30.5" fill="#262626" text-anchor="middle">30</text>
<text x="0" y="0" transform="translate(329.8,1148.7) scale(1.03,1)" font-size="30.5" fill="#262626" text-anchor="middle">60</text>
<text x="0" y="0" transform="translate(450.1,1148.7) scale(1.03,1)" font-size="30.5" fill="#262626" text-anchor="middle">90</text>
<text x="0" y="0" transform="translate(570.3,1148.7) scale(1.03,1)" font-size="30.5" fill="#262626" text-anchor="middle">120</text>
<text x="0" y="0" transform="translate(690.6,1148.7) scale(1.03,1)" font-size="30.5" fill="#262626" text-anchor="middle">150</text>
<text x="0" y="0" transform="translate(79.3,1067.6) scale(1.03,1)" font-size="30.5" fill="#262626" text-anchor="end">0</text>
<text x="0" y="0" transform="translate(79.3,975.5) scale(1.03,1)" font-size="30.5" fill="#262626" text-anchor="end">0.5</text>
<text x="0" y="0" transform="translate(79.3,883.4) scale(1.03,1)" font-size="30.5" fill="#262626" text-anchor="end">1</text>
<clipPath id="lclip"><rect x="885.2" y="835.9" width="599.6" height="275.4"/></clipPath>
<g clip-path="url(#lclip)" fill="none" stroke-linejoin="round">
<polyline points="886.5,961.8 888.7,972.7 889.8,983.5 890.9,993.3 893.1,1001.0 895.2,1007.5 897.4,1014.0 902.9,1019.5 906.1,1024.0 911.6,1029.0 918.1,1032.4 921.4,1034.8 929.0,1038.0 936.6,1040.1 945.3,1042.5 956.2,1044.5 967.1,1046.1 978.0,1047.7 988.8,1048.8 999.7,1049.9 1010.6,1050.5 1021.5,1051.2 1038.9,1052.1 1064.8,1053.8 1110.4,1055.6 1148.1,1056.6 1198.9,1057.5 1257.3,1058.6 1320.0,1059.6 1400.0,1060.5 1485.1,1061.4" stroke="#888888" stroke-width="3.6" stroke-dasharray="3.6,3.6"/>
<polyline points="885.7,956.7 888.2,891.4 892.6,898.9 896.3,882.6 901.4,878.8 905.1,875.1 912.7,876.3 917.7,878.2 922.7,883.9 926.5,882.0 930.2,883.9 932.7,880.1 935.3,887.6 940.3,896.4 946.6,887.6 952.8,890.1 955.4,895.8 960.4,893.3 963.5,904.6 966.7,903.3 970.4,916.5 972.9,930.3 975.4,949.2 978.6,945.4 981.1,958.0 985.5,950.4 989.9,938.5 993.7,941.6 998.7,952.9 1004.3,927.2 1008.1,929.1 1010.6,936.0 1015.6,921.5 1021.3,950.4 1027.6,920.3 1032.6,945.4 1035.7,932.8 1039.5,939.1 1042.5,931.5 1048.2,942.8 1050.1,935.2 1053.8,954.1 1059.5,961.6 1065.2,965.4 1072.7,969.2 1075.5,988.0 1081.2,980.5 1084.9,1001.2 1091.5,969.2 1093.4,980.5 1100.0,968.2 1107.6,973.9 1114.2,1006.8 1119.8,1021.9 1125.5,1012.5 1131.1,1029.5 1136.8,1023.8 1142.4,1021.9 1148.1,1055.9 1152.8,1038.9 1159.4,1055.9 1165.2,1055.4 1168.4,1074.2 1173.0,1054.7 1176.9,1066.4 1182.7,1053.4 1187.9,1071.6 1191.8,1058.6 1194.4,1043.7 1197.0,1070.3 1202.8,1076.8 1210.6,1089.8 1217.1,1070.3 1221.0,1080.7 1228.8,1070.3 1232.7,1089.8 1236.6,1084.6 1240.5,1096.3 1249.5,1070.3 1254.7,1089.8 1263.8,1088.5 1269.0,1078.1 1271.6,1085.9 1275.5,1076.1 1280.7,1089.8 1285.9,1096.3 1292.4,1107.9 1297.6,1102.7 1301.4,1100.2 1306.6,1106.0 1310.0,1105.9 1314.8,1102.3 1320.8,1096.3 1323.8,1103.5 1326.8,1087.8 1330.5,1086.6 1337.7,1080.6 1342.5,1086.6 1347.3,1079.4 1354.5,1079.4 1358.1,1086.6 1361.7,1111.9 1366.6,1108.3 1370.2,1097.5 1375.0,1098.7 1378.6,1091.4 1382.2,1095.1 1384.6,1102.3 1389.4,1099.9 1394.2,1110.7 1399.0,1099.9 1402.6,1110.7 1407.5,1102.3 1412.3,1103.5 1416.5,1095.1 1420.7,1096.3 1424.3,1087.8 1429.1,1090.2 1433.9,1086.6 1438.7,1096.3 1443.6,1103.5 1448.4,1105.9 1452.0,1101.1 1460.4,1098.7 1466.4,1098.7 1471.2,1105.9 1477.2,1103.5 1480.9,1109.5 1485.1,1108.9" stroke="#00b000" stroke-width="4.3"/>
<polyline points="885.7,895.2 888.8,960.5 890.7,897.7 891.9,878.8 895.1,872.6 905.1,871.6 915.2,872.6 918.9,873.8 924.0,877.0 930.2,876.1 935.3,877.6 940.3,881.4 946.6,878.8 952.8,880.1 959.1,883.9 964.1,891.4 967.9,890.8 971.7,900.2 975.4,912.7 978.6,915.3 981.7,925.3 984.2,924.1 986.8,916.5 990.5,920.3 995.5,920.3 1000.6,912.7 1004.3,911.5 1006.8,900.2 1009.4,914.6 1015.6,908.4 1019.4,913.4 1024.4,906.5 1026.9,912.1 1030.7,906.5 1034.5,910.2 1038.2,909.0 1042.5,914.5 1045.4,908.8 1052.0,920.2 1056.7,937.1 1059.5,936.2 1063.3,956.0 1067.0,957.8 1072.7,965.4 1079.3,976.7 1082.1,962.6 1088.7,974.8 1091.5,948.4 1099.1,948.4 1102.8,959.7 1107.6,972.0 1111.3,955.0 1115.1,965.4 1119.8,993.7 1124.5,974.8 1131.1,977.6 1134.9,993.7 1140.5,1006.8 1148.1,1037.0 1150.9,1024.8 1157.5,1065.3 1160.0,1040.5 1165.2,1036.6 1171.7,1038.5 1176.9,1052.8 1180.1,1045.6 1182.7,1018.4 1186.0,1023.6 1188.5,1015.8 1193.7,1026.2 1197.6,1019.0 1205.4,1028.8 1209.3,1013.9 1215.8,1022.3 1220.3,1040.5 1223.6,1034.0 1227.5,1052.1 1230.7,1059.9 1234.6,1071.6 1238.5,1076.1 1242.4,1091.1 1246.3,1103.4 1249.5,1089.8 1252.1,1102.7 1258.6,1085.9 1262.5,1084.6 1265.8,1063.8 1269.7,1059.3 1275.5,1057.3 1280.7,1049.5 1284.6,1055.4 1289.8,1061.2 1293.7,1051.5 1301.4,1052.8 1306.6,1078.1 1309.9,1067.7 1314.8,1083.0 1318.4,1081.8 1324.4,1098.7 1326.8,1099.9 1330.5,1089.0 1335.3,1093.9 1338.9,1084.2 1343.7,1095.1 1348.5,1083.0 1355.7,1074.6 1361.7,1079.4 1366.6,1068.6 1370.2,1073.4 1376.2,1071.6 1379.2,1081.8 1384.6,1077.6 1388.2,1089.6 1391.8,1085.4 1397.8,1084.2 1402.6,1085.4 1407.5,1099.9 1411.1,1093.9 1413.5,1098.7 1421.9,1098.7 1425.5,1106.5 1433.9,1107.7 1438.7,1096.3 1444.8,1103.5 1447.8,1093.9 1453.2,1096.3 1456.8,1094.5 1459.2,1096.3 1464.0,1090.8 1471.2,1088.4 1476.0,1095.1 1480.9,1094.5 1485.1,1096.9" stroke="#0000ff" stroke-width="4.3"/>
<line x1="1197.4" y1="836" x2="1197.4" y2="1111" stroke="#008000" stroke-width="3.2" stroke-dasharray="12.3,12.8" stroke-dashoffset="11"/>
<line x1="1231.8" y1="836" x2="1231.8" y2="1111" stroke="#0000a0" stroke-width="3.2" stroke-dasharray="12.3,12.8" stroke-dashoffset="11"/>
</g>
<line x1="1272.3" y1="1008.7" x2="1248" y2="1041.5" stroke="#0000a0" stroke-width="3.8"/>
<polygon points="1241.1,1050.8 1242,1036.5 1254.5,1045.5" fill="#0000a0"/>
<line x1="1150.9" y1="1078.5" x2="1182" y2="1063.8" stroke="#000" stroke-width="3.2"/>
<line x1="1150.9" y1="1078.5" x2="1182" y2="1063.8" stroke="#008000" stroke-width="1.2"/>
<polygon points="1188.6,1060.6 1176,1059 1181,1069" fill="#004000"/>
<line x1="1336.8" y1="863.3" x2="1368" y2="863.3" stroke="#0000ff" stroke-width="4.3"/>
<line x1="1336.8" y1="899.4" x2="1368" y2="899.4" stroke="#00b000" stroke-width="4.3"/>
<line x1="1336.8" y1="931.2" x2="1368" y2="931.2" stroke="#888888" stroke-width="4.3" stroke-dasharray="3.6,3.6"/>
<rect x="885.2" y="835.9" width="599.5999999999999" height="275.4" fill="none" stroke="#262626" stroke-width="2.3"/>
<line x1="999.7" y1="1111.3" x2="999.7" y2="1105.8" stroke="#262626" stroke-width="2"/>
<line x1="999.7" y1="835.9" x2="999.7" y2="841.4" stroke="#262626" stroke-width="2"/>
<line x1="1114.2" y1="1111.3" x2="1114.2" y2="1105.8" stroke="#262626" stroke-width="2"/>
<line x1="1114.2" y1="835.9" x2="1114.2" y2="841.4" stroke="#262626" stroke-width="2"/>
<line x1="1228.7" y1="1111.3" x2="1228.7" y2="1105.8" stroke="#262626" stroke-width="2"/>
<line x1="1228.7" y1="835.9" x2="1228.7" y2="841.4" stroke="#262626" stroke-width="2"/>
<line x1="1343.2" y1="1111.3" x2="1343.2" y2="1105.8" stroke="#262626" stroke-width="2"/>
<line x1="1343.2" y1="835.9" x2="1343.2" y2="841.4" stroke="#262626" stroke-width="2"/>
<line x1="1457.7" y1="1111.3" x2="1457.7" y2="1105.8" stroke="#262626" stroke-width="2"/>
<line x1="1457.7" y1="835.9" x2="1457.7" y2="841.4" stroke="#262626" stroke-width="2"/>
<line x1="885.2" y1="991.6" x2="890.7" y2="991.6" stroke="#262626" stroke-width="2"/>
<line x1="1484.8" y1="991.6" x2="1479.3" y2="991.6" stroke="#262626" stroke-width="2"/>
<line x1="885.2" y1="871.9" x2="890.7" y2="871.9" stroke="#262626" stroke-width="2"/>
<line x1="1484.8" y1="871.9" x2="1479.3" y2="871.9" stroke="#262626" stroke-width="2"/>
<text x="0" y="0" transform="translate(885.2,1148.7) scale(1.03,1)" font-size="30.5" fill="#262626" text-anchor="middle">0</text>
<text x="0" y="0" transform="translate(999.7,1148.7) scale(1.03,1)" font-size="30.5" fill="#262626" text-anchor="middle">0.2</text>
<text x="0" y="0" transform="translate(1114.2,1148.7) scale(1.03,1)" font-size="30.5" fill="#262626" text-anchor="middle">0.4</text>
<text x="0" y="0" transform="translate(1228.7,1148.7) scale(1.03,1)" font-size="30.5" fill="#262626" text-anchor="middle">0.6</text>
<text x="0" y="0" transform="translate(1343.2,1148.7) scale(1.03,1)" font-size="30.5" fill="#262626" text-anchor="middle">0.8</text>
<text x="0" y="0" transform="translate(1457.7,1148.7) scale(1.03,1)" font-size="30.5" fill="#262626" text-anchor="middle">1</text>
<text x="0" y="0" transform="translate(875.2,1122.8) scale(1.03,1)" font-size="30.5" fill="#262626" text-anchor="end">0</text>
<text x="0" y="0" transform="translate(875.2,1003.1) scale(1.03,1)" font-size="30.5" fill="#262626" text-anchor="end">0.5</text>
<text x="0" y="0" transform="translate(875.2,883.4) scale(1.03,1)" font-size="30.5" fill="#262626" text-anchor="end">1</text>
<text x="0" y="0" transform="translate(78.90,31.0)" font-size="42.5" fill="#000">a</text>
<text x="0" y="0" transform="translate(365.80,31.3)" font-size="42.5" fill="#000">b</text>
<text x="0" y="0" transform="translate(653.60,31.3)" font-size="42.5" fill="#000">c</text>
<text x="0" y="0" transform="translate(940.00,31.3)" font-size="42.5" fill="#000">d</text>
<text x="0" y="0" transform="translate(1226.00,31.3)" font-size="42.5" fill="#000">e</text>
<text x="0" y="0" transform="translate(85.00,436.6)" font-size="42.5" fill="#000">f</text>
<text x="0" y="0" transform="translate(365.50,436.6)" font-size="42.5" fill="#000">g</text>
<text x="0" y="0" transform="translate(652.00,436.6)" font-size="42.5" fill="#000">h</text>
<text x="0" y="0" transform="translate(947.70,436.6)" font-size="42.5" fill="#000">i</text>
<text x="0" y="0" transform="translate(1234.50,436.6)" font-size="42.5" fill="#000">j</text>
<text x="0" y="0" transform="translate(100.00,820.8)" font-size="42.5" fill="#000">k</text>
<text x="0" y="0" transform="translate(897.40,820.4)" font-size="42.5" fill="#000">l</text>
<text x="0" y="0" transform="translate(96.57,369.5) scale(1.0109,1)" font-size="32" fill="#000">Ptycho. 88 e<tspan font-size="18" dy="-10">-</tspan><tspan font-size="32" dy="10">/Å</tspan><tspan font-size="18" dy="-11.3">2</tspan></text>
<text x="0" y="0" transform="translate(382.66,369.5) scale(1.0145,1)" font-size="32" fill="#000">Ptycho. 45 e<tspan font-size="18" dy="-10">-</tspan><tspan font-size="32" dy="10">/Å</tspan><tspan font-size="18" dy="-11.3">2</tspan></text>
<text x="0" y="0" transform="translate(669.45,369.5) scale(1.0159,1)" font-size="32" fill="#000">Ptycho. 26 e<tspan font-size="18" dy="-10">-</tspan><tspan font-size="32" dy="10">/Å</tspan><tspan font-size="18" dy="-11.3">2</tspan></text>
<text x="0" y="0" transform="translate(952.90,352.2)" font-size="32" fill="#000">TEM df: -0.1 µm,</text>
<text x="0" y="0" transform="translate(1020.67,390.8) scale(1.0151,1)" font-size="32" fill="#000">27 e<tspan font-size="18" dy="-10">-</tspan><tspan font-size="32" dy="10">/Å</tspan><tspan font-size="18" dy="-11.3">2</tspan></text>
<text x="0" y="0" transform="translate(1238.49,352.2) scale(1.0064,1)" font-size="32" fill="#000">TEM df: -2.8 µm,</text>
<text x="0" y="0" transform="translate(1302.57,390.8) scale(1.0170,1)" font-size="32" fill="#000">27 e<tspan font-size="18" dy="-10">-</tspan><tspan font-size="32" dy="10">/Å</tspan><tspan font-size="18" dy="-11.3">2</tspan></text>
<text x="0" y="0" transform="translate(8.70,51.5)" font-size="21" fill="#000">1</text>
<text x="0" y="0" transform="translate(9.00,279.4)" font-size="21" fill="#000">0</text>
<text x="0" y="0" transform="translate(82.55,294.1) scale(1.0500,1)" font-size="24" fill="#fff">50 nm</text>
<text x="0" y="0" transform="translate(23.16,641.17) scale(0.9767,0.9913) rotate(-90)" font-size="32.5" fill="#000">Frequency</text>
<text x="0" y="0" transform="translate(100.40,757.4) scale(1.0476,1)" font-size="25.5" fill="#000">Normalized intensity</text>
<text x="0" y="0" transform="translate(1317.99,487.5) scale(1.0525,1)" font-size="26.7" fill="#000">Background</text>
<text x="0" y="0" transform="translate(1317.89,520.9) scale(1.0565,1)" font-size="26.7" fill="#000">DNA strands</text>
<text x="0" y="0" transform="translate(26.61,1128.77) scale(1.0129,1.0248) rotate(-90)" font-size="33.5" fill="#262626">Normalized intensity</text>
<text x="0" y="0" transform="translate(296.91,1187.8) scale(1.0295,1)" font-size="33.6" fill="#262626">Length (nm)</text>
<text x="0" y="0" transform="translate(132.82,874.6) scale(1.0376,1)" font-size="23.6" fill="#000">Ptycho. 88 e<tspan font-size="15" dy="-12.3">-</tspan><tspan font-size="23.6" dy="12.3">/Å</tspan><tspan font-size="17.5" dy="-11.8">2</tspan></text>
<text x="0" y="0" transform="translate(132.82,908.6) scale(1.0376,1)" font-size="23.6" fill="#000">Ptycho. 45 e<tspan font-size="15" dy="-12.3">-</tspan><tspan font-size="23.6" dy="12.3">/Å</tspan><tspan font-size="17.5" dy="-11.8">2</tspan></text>
<text x="0" y="0" transform="translate(132.82,943.2) scale(1.0376,1)" font-size="23.6" fill="#000">Ptycho. 26 e<tspan font-size="15" dy="-12.3">-</tspan><tspan font-size="23.6" dy="12.3">/Å</tspan><tspan font-size="17.5" dy="-11.8">2</tspan></text>
<text x="0" y="0" transform="translate(356.00,897.1) scale(1.0217,1)" font-size="23.3" fill="#000">TEM df: -2.8 µm</text>
<text x="0" y="0" transform="translate(356.00,924.3) scale(1.0217,1)" font-size="23.3" fill="#000">TEM df: -0.1 µm</text>
<text x="0" y="0" transform="translate(93.97,989.5) scale(1.0339,1)" font-size="18.2" fill="#000">0.40 (2 DNA strands)</text>
<text x="0" y="0" transform="translate(372.46,991.2) scale(1.0352,1)" font-size="18.2" fill="#000">0.21 (1 DNA strand)</text>
<text x="0" y="0" transform="translate(822.70,997.68) scale(1.0174,0.9935) rotate(-90)" font-size="32.7" fill="#262626">FRC</text>
<text x="0" y="0" transform="translate(1049.33,1187.7) scale(1.0242,1)" font-size="33.6" fill="#262626">Frequency (1/nm)</text>
<text x="0" y="0" transform="translate(1383.10,875.8) scale(1.1012,1)" font-size="23.7" fill="#000">45 e<tspan font-size="15" dy="-12.3">-</tspan><tspan font-size="23.7" dy="12.3">/Å</tspan><tspan font-size="17.5" dy="-11.8">2</tspan></text>
<text x="0" y="0" transform="translate(1383.10,911.6) scale(1.1012,1)" font-size="23.7" fill="#000">26 e<tspan font-size="15" dy="-12.3">-</tspan><tspan font-size="23.7" dy="12.3">/Å</tspan><tspan font-size="17.5" dy="-11.8">2</tspan></text>
<text x="0" y="0" transform="translate(1383.44,940.0) scale(1.0603,1)" font-size="23.7" fill="#000">0.5 bit</text>
<text x="0" y="0" transform="translate(1276.71,1004.9) scale(0.9882,1)" font-size="18.9" fill="#0000b4" font-weight="bold">1.65 nm</text>
<text x="0" y="0" transform="translate(1081.07,1085.9) scale(1.0323,1)" font-size="18.0" fill="#008200" font-weight="bold">1.83 nm</text>
<text x="0" y="0" transform="translate(252.40,511.1) scale(0.9962,1)" font-size="28" fill="#000">0.24</text>
<text x="0" y="0" transform="translate(526.06,535.3) scale(1.0442,1)" font-size="28" fill="#000">0.19</text>
<text x="0" y="0" transform="translate(802.06,526.0) scale(1.0423,1)" font-size="28" fill="#000">0.15</text>
<text x="0" y="0" transform="translate(1064.97,525.3) scale(1.0250,1)" font-size="28" fill="#000">0.06</text>
<text x="0" y="0" transform="translate(1357.16,567.0) scale(1.0365,1)" font-size="28" fill="#000">0.07</text>
</svg></body></html>
